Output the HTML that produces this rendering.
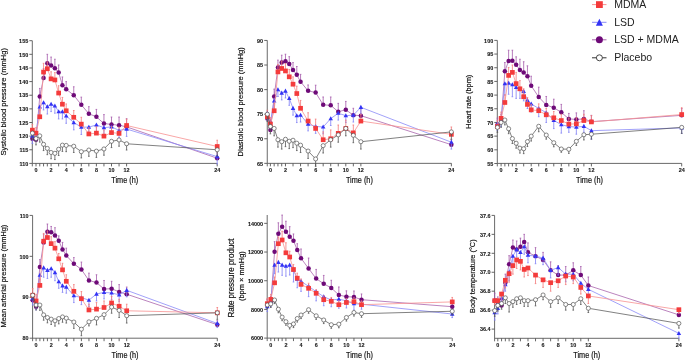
<!DOCTYPE html>
<html><head><meta charset="utf-8"><style>
html,body{margin:0;padding:0;background:#fff;}
svg{display:block;will-change:transform;}
text{font-family:"Liberation Sans", sans-serif;fill:#111;}
.tl{font-size:6.2px;font-weight:bold;fill:#1a1a1a;stroke:#1a1a1a;stroke-width:0.12px;}
.ax{font-size:7.3px;fill:#111;stroke:#111;stroke-width:0.18px;}
.lg{font-size:10.5px;fill:#222;}
</style></head><body>
<svg width="685" height="360" viewBox="0 0 685 360">
<rect width="685" height="360" fill="#fff"/>
<g>
<path d="M32.3 40.7V166.4 M32.3 163.4H217.2" stroke="#6a6a6a" stroke-width="1" fill="none"/>
<path d="M29.3 163.4H32.3" stroke="#555" stroke-width="0.9"/>
<text x="28.2" y="165.6" class="tl" text-anchor="end" textLength="8.79" lengthAdjust="spacingAndGlyphs">110</text>
<path d="M29.3 149.77H32.3" stroke="#555" stroke-width="0.9"/>
<text x="28.2" y="151.97" class="tl" text-anchor="end" textLength="8.79" lengthAdjust="spacingAndGlyphs">115</text>
<path d="M29.3 136.13H32.3" stroke="#555" stroke-width="0.9"/>
<text x="28.2" y="138.33" class="tl" text-anchor="end" textLength="9.09" lengthAdjust="spacingAndGlyphs">120</text>
<path d="M29.3 122.5H32.3" stroke="#555" stroke-width="0.9"/>
<text x="28.2" y="124.7" class="tl" text-anchor="end" textLength="9.09" lengthAdjust="spacingAndGlyphs">125</text>
<path d="M29.3 108.86H32.3" stroke="#555" stroke-width="0.9"/>
<text x="28.2" y="111.06" class="tl" text-anchor="end" textLength="9.09" lengthAdjust="spacingAndGlyphs">130</text>
<path d="M29.3 95.23H32.3" stroke="#555" stroke-width="0.9"/>
<text x="28.2" y="97.43" class="tl" text-anchor="end" textLength="9.09" lengthAdjust="spacingAndGlyphs">135</text>
<path d="M29.3 81.59H32.3" stroke="#555" stroke-width="0.9"/>
<text x="28.2" y="83.79" class="tl" text-anchor="end" textLength="9.09" lengthAdjust="spacingAndGlyphs">140</text>
<path d="M29.3 67.96H32.3" stroke="#555" stroke-width="0.9"/>
<text x="28.2" y="70.16" class="tl" text-anchor="end" textLength="9.09" lengthAdjust="spacingAndGlyphs">145</text>
<path d="M29.3 54.32H32.3" stroke="#555" stroke-width="0.9"/>
<text x="28.2" y="56.52" class="tl" text-anchor="end" textLength="9.09" lengthAdjust="spacingAndGlyphs">150</text>
<path d="M29.3 40.69H32.3" stroke="#555" stroke-width="0.9"/>
<text x="28.2" y="42.89" class="tl" text-anchor="end" textLength="9.09" lengthAdjust="spacingAndGlyphs">155</text>
<path d="M36 163.4V166.4" stroke="#555" stroke-width="0.9"/>
<text x="36" y="172.4" class="tl" text-anchor="middle" textLength="3.03" lengthAdjust="spacingAndGlyphs">0</text>
<path d="M39.77 163.4V166.4" stroke="#555" stroke-width="0.9"/>
<path d="M43.55 163.4V166.4" stroke="#555" stroke-width="0.9"/>
<path d="M47.33 163.4V166.4" stroke="#555" stroke-width="0.9"/>
<path d="M51.1 163.4V166.4" stroke="#555" stroke-width="0.9"/>
<text x="51.1" y="172.4" class="tl" text-anchor="middle" textLength="3.03" lengthAdjust="spacingAndGlyphs">2</text>
<path d="M58.65 163.4V166.4" stroke="#555" stroke-width="0.9"/>
<path d="M66.2 163.4V166.4" stroke="#555" stroke-width="0.9"/>
<text x="66.2" y="172.4" class="tl" text-anchor="middle" textLength="3.03" lengthAdjust="spacingAndGlyphs">4</text>
<path d="M73.75 163.4V166.4" stroke="#555" stroke-width="0.9"/>
<path d="M81.3 163.4V166.4" stroke="#555" stroke-width="0.9"/>
<text x="81.3" y="172.4" class="tl" text-anchor="middle" textLength="3.03" lengthAdjust="spacingAndGlyphs">6</text>
<path d="M88.85 163.4V166.4" stroke="#555" stroke-width="0.9"/>
<path d="M96.4 163.4V166.4" stroke="#555" stroke-width="0.9"/>
<text x="96.4" y="172.4" class="tl" text-anchor="middle" textLength="3.03" lengthAdjust="spacingAndGlyphs">8</text>
<path d="M103.95 163.4V166.4" stroke="#555" stroke-width="0.9"/>
<path d="M111.5 163.4V166.4" stroke="#555" stroke-width="0.9"/>
<text x="111.5" y="172.4" class="tl" text-anchor="middle" textLength="6.06" lengthAdjust="spacingAndGlyphs">10</text>
<path d="M119.05 163.4V166.4" stroke="#555" stroke-width="0.9"/>
<path d="M126.6 163.4V166.4" stroke="#555" stroke-width="0.9"/>
<text x="126.6" y="172.4" class="tl" text-anchor="middle" textLength="6.06" lengthAdjust="spacingAndGlyphs">12</text>
<path d="M217.2 163.4V166.4" stroke="#555" stroke-width="0.9"/>
<text x="217.2" y="172.4" class="tl" text-anchor="middle" textLength="6.06" lengthAdjust="spacingAndGlyphs">24</text>
<text x="124.75" y="183.4" class="ax" style="font-size:8.18px" text-anchor="middle" textLength="26.9" lengthAdjust="spacingAndGlyphs">Time (h)</text>
<text transform="translate(5.9 101.8) rotate(-90)" class="ax" style="font-size:8px" text-anchor="middle" textLength="107.41" lengthAdjust="spacingAndGlyphs">Systolic blood pressure (mmHg)</text>
<polyline points="32.4,138.86 36,139.68 39.77,96.59 43.55,78.04 47.33,63.32 51.1,65.5 54.88,68.23 58.65,72.59 62.42,85.14 66.2,89.23 73.75,95.23 81.3,104.77 88.85,113.77 96.4,116.77 103.95,123.59 111.5,124.4 119.05,125.22 126.6,126.86 217.2,158.22" fill="none" stroke="#a964ad" stroke-width="0.8"/>
<path d="M32.4 138.86V132.04M31.6 132.04H33.2M36 139.68V132.86M35.2 132.86H36.8M39.77 96.59V88.41M38.98 88.41H40.57M43.55 78.04V68.5M42.75 68.5H44.35M47.33 63.32V54.32M46.53 54.32H48.12M51.1 65.5V57.05M50.3 57.05H51.9M54.88 68.23V59.23M54.08 59.23H55.67M58.65 72.59V64.96M57.85 64.96H59.45M62.42 85.14V76.95M61.62 76.95H63.22M66.2 89.23V81.59M65.4 81.59H67M73.75 95.23V86.77M72.95 86.77H74.55M81.3 104.77V97.13M80.5 97.13H82.1M88.85 113.77V106.68M88.05 106.68H89.65M96.4 116.77V109.41M95.6 109.41H97.2M103.95 123.59V114.59M103.15 114.59H104.75M111.5 124.4V117.04M110.7 117.04H112.3M119.05 125.22V117.04M118.25 117.04H119.85M126.6 126.86V118.68M125.8 118.68H127.4M217.2 158.22V152.76M216.4 152.76H218" stroke="#a55aab" stroke-width="0.8" fill="none"/>
<circle cx="32.4" cy="138.86" r="2.25" fill="#6e0a78"/>
<circle cx="36" cy="139.68" r="2.25" fill="#6e0a78"/>
<circle cx="39.77" cy="96.59" r="2.25" fill="#6e0a78"/>
<circle cx="43.55" cy="78.04" r="2.25" fill="#6e0a78"/>
<circle cx="47.33" cy="63.32" r="2.25" fill="#6e0a78"/>
<circle cx="51.1" cy="65.5" r="2.25" fill="#6e0a78"/>
<circle cx="54.88" cy="68.23" r="2.25" fill="#6e0a78"/>
<circle cx="58.65" cy="72.59" r="2.25" fill="#6e0a78"/>
<circle cx="62.42" cy="85.14" r="2.25" fill="#6e0a78"/>
<circle cx="66.2" cy="89.23" r="2.25" fill="#6e0a78"/>
<circle cx="73.75" cy="95.23" r="2.25" fill="#6e0a78"/>
<circle cx="81.3" cy="104.77" r="2.25" fill="#6e0a78"/>
<circle cx="88.85" cy="113.77" r="2.25" fill="#6e0a78"/>
<circle cx="96.4" cy="116.77" r="2.25" fill="#6e0a78"/>
<circle cx="103.95" cy="123.59" r="2.25" fill="#6e0a78"/>
<circle cx="111.5" cy="124.4" r="2.25" fill="#6e0a78"/>
<circle cx="119.05" cy="125.22" r="2.25" fill="#6e0a78"/>
<circle cx="126.6" cy="126.86" r="2.25" fill="#6e0a78"/>
<circle cx="217.2" cy="158.22" r="2.25" fill="#6e0a78"/>
<polyline points="32.4,136.13 36,133.4 39.77,106.95 43.55,102.59 47.33,106.68 51.1,104.22 54.88,105.86 58.65,111.59 62.42,111.59 66.2,115.95 73.75,122.5 81.3,127.13 88.85,127.13 96.4,124.95 103.95,127.68 111.5,126.86 119.05,130.4 126.6,129.04 217.2,156.58" fill="none" stroke="#8a8af7" stroke-width="0.8"/>
<path d="M32.4 136.13V143.49M31.6 143.49H33.2M36 133.4V140.77M35.2 140.77H36.8M39.77 106.95V114.31M38.98 114.31H40.57M43.55 102.59V109.95M42.75 109.95H44.35M47.33 106.68V114.04M46.53 114.04H48.12M51.1 104.22V111.59M50.3 111.59H51.9M54.88 105.86V113.22M54.08 113.22H55.67M58.65 111.59V118.95M57.85 118.95H59.45M62.42 111.59V118.95M61.62 118.95H63.22M66.2 115.95V123.31M65.4 123.31H67M73.75 122.5V129.86M72.95 129.86H74.55M81.3 127.13V134.49M80.5 134.49H82.1M88.85 127.13V134.49M88.05 134.49H89.65M96.4 124.95V132.31M95.6 132.31H97.2M103.95 127.68V135.04M103.15 135.04H104.75M111.5 126.86V134.22M110.7 134.22H112.3M119.05 130.4V137.77M118.25 137.77H119.85M126.6 129.04V136.4M125.8 136.4H127.4M217.2 156.58V163.95M216.4 163.95H218" stroke="#8080f5" stroke-width="0.8" fill="none"/>
<path d="M32.4 133.67L34.65 137.77L30.15 137.77Z" fill="#3333f5"/>
<path d="M36 130.94L38.25 135.04L33.75 135.04Z" fill="#3333f5"/>
<path d="M39.77 104.49L42.02 108.59L37.52 108.59Z" fill="#3333f5"/>
<path d="M43.55 100.13L45.8 104.23L41.3 104.23Z" fill="#3333f5"/>
<path d="M47.33 104.22L49.58 108.32L45.08 108.32Z" fill="#3333f5"/>
<path d="M51.1 101.76L53.35 105.86L48.85 105.86Z" fill="#3333f5"/>
<path d="M54.88 103.4L57.12 107.5L52.62 107.5Z" fill="#3333f5"/>
<path d="M58.65 109.13L60.9 113.23L56.4 113.23Z" fill="#3333f5"/>
<path d="M62.42 109.13L64.67 113.23L60.17 113.23Z" fill="#3333f5"/>
<path d="M66.2 113.49L68.45 117.59L63.95 117.59Z" fill="#3333f5"/>
<path d="M73.75 120.04L76 124.14L71.5 124.14Z" fill="#3333f5"/>
<path d="M81.3 124.67L83.55 128.77L79.05 128.77Z" fill="#3333f5"/>
<path d="M88.85 124.67L91.1 128.77L86.6 128.77Z" fill="#3333f5"/>
<path d="M96.4 122.49L98.65 126.59L94.15 126.59Z" fill="#3333f5"/>
<path d="M103.95 125.22L106.2 129.32L101.7 129.32Z" fill="#3333f5"/>
<path d="M111.5 124.4L113.75 128.5L109.25 128.5Z" fill="#3333f5"/>
<path d="M119.05 127.94L121.3 132.04L116.8 132.04Z" fill="#3333f5"/>
<path d="M126.6 126.58L128.85 130.68L124.35 130.68Z" fill="#3333f5"/>
<path d="M217.2 154.12L219.45 158.22L214.95 158.22Z" fill="#3333f5"/>
<polyline points="32.4,130.13 36,133.13 39.77,116.77 43.55,72.05 47.33,68.77 51.1,78.86 54.88,79.95 58.65,93.04 62.42,104.22 66.2,110.77 73.75,117.31 81.3,124.13 88.85,133.95 96.4,133.13 103.95,136.13 111.5,132.58 119.05,133.4 126.6,125.49 217.2,146.49" fill="none" stroke="#f79090" stroke-width="0.8"/>
<path d="M32.4 130.13V124.4M31.6 124.4H33.2M36 133.13V127.68M35.2 127.68H36.8M39.77 116.77V109.95M38.98 109.95H40.57M43.55 72.05V63.32M42.75 63.32H44.35M47.33 68.77V61.96M46.53 61.96H48.12M51.1 78.86V71.77M50.3 71.77H51.9M54.88 79.95V72.59M54.08 72.59H55.67M58.65 93.04V85.68M57.85 85.68H59.45M62.42 104.22V97.41M61.62 97.41H63.22M66.2 110.77V103.95M65.4 103.95H67M73.75 117.31V110.5M72.95 110.5H74.55M81.3 124.13V117.31M80.5 117.31H82.1M88.85 133.95V127.68M88.05 127.68H89.65M96.4 133.13V126.86M95.6 126.86H97.2M103.95 136.13V129.86M103.15 129.86H104.75M111.5 132.58V126.31M110.7 126.31H112.3M119.05 133.4V127.13M118.25 127.13H119.85M126.6 125.49V119.22M125.8 119.22H127.4M217.2 146.49V140.22M216.4 140.22H218" stroke="#f47a7a" stroke-width="0.8" fill="none"/>
<rect x="30.05" y="127.78" width="4.7" height="4.7" fill="#f43b3b"/>
<rect x="33.65" y="130.78" width="4.7" height="4.7" fill="#f43b3b"/>
<rect x="37.42" y="114.42" width="4.7" height="4.7" fill="#f43b3b"/>
<rect x="41.2" y="69.7" width="4.7" height="4.7" fill="#f43b3b"/>
<rect x="44.98" y="66.42" width="4.7" height="4.7" fill="#f43b3b"/>
<rect x="48.75" y="76.51" width="4.7" height="4.7" fill="#f43b3b"/>
<rect x="52.52" y="77.6" width="4.7" height="4.7" fill="#f43b3b"/>
<rect x="56.3" y="90.69" width="4.7" height="4.7" fill="#f43b3b"/>
<rect x="60.07" y="101.87" width="4.7" height="4.7" fill="#f43b3b"/>
<rect x="63.85" y="108.42" width="4.7" height="4.7" fill="#f43b3b"/>
<rect x="71.4" y="114.96" width="4.7" height="4.7" fill="#f43b3b"/>
<rect x="78.95" y="121.78" width="4.7" height="4.7" fill="#f43b3b"/>
<rect x="86.5" y="131.6" width="4.7" height="4.7" fill="#f43b3b"/>
<rect x="94.05" y="130.78" width="4.7" height="4.7" fill="#f43b3b"/>
<rect x="101.6" y="133.78" width="4.7" height="4.7" fill="#f43b3b"/>
<rect x="109.15" y="130.23" width="4.7" height="4.7" fill="#f43b3b"/>
<rect x="116.7" y="131.05" width="4.7" height="4.7" fill="#f43b3b"/>
<rect x="124.25" y="123.14" width="4.7" height="4.7" fill="#f43b3b"/>
<rect x="214.85" y="144.14" width="4.7" height="4.7" fill="#f43b3b"/>
<polyline points="32.4,133.13 36,138.58 39.77,135.86 43.55,144.31 47.33,148.4 51.1,152.49 54.88,153.31 58.65,149.22 62.42,145.13 66.2,145.4 73.75,146.22 81.3,151.67 88.85,150.04 96.4,151.13 103.95,148.95 111.5,141.31 119.05,139.95 126.6,143.77 217.2,149.77" fill="none" stroke="#4a4a4a" stroke-width="0.7"/>
<path d="M32.4 133.13V139.4M31.6 139.4H33.2M36 138.58V144.86M35.2 144.86H36.8M39.77 135.86V142.13M38.98 142.13H40.57M43.55 144.31V150.58M42.75 150.58H44.35M47.33 148.4V154.67M46.53 154.67H48.12M51.1 152.49V158.76M50.3 158.76H51.9M54.88 153.31V159.58M54.08 159.58H55.67M58.65 149.22V155.49M57.85 155.49H59.45M62.42 145.13V151.4M61.62 151.4H63.22M66.2 145.4V151.67M65.4 151.67H67M73.75 146.22V152.49M72.95 152.49H74.55M81.3 151.67V157.95M80.5 157.95H82.1M88.85 150.04V156.31M88.05 156.31H89.65M96.4 151.13V157.4M95.6 157.4H97.2M103.95 148.95V155.22M103.15 155.22H104.75M111.5 141.31V147.58M110.7 147.58H112.3M119.05 139.95V146.22M118.25 146.22H119.85M126.6 143.77V150.04M125.8 150.04H127.4M217.2 149.77V156.04M216.4 156.04H218" stroke="#555555" stroke-width="0.8" fill="none"/>
<circle cx="32.4" cy="133.13" r="2.05" fill="#fff" stroke="#555" stroke-width="0.7"/>
<circle cx="36" cy="138.58" r="2.05" fill="#fff" stroke="#555" stroke-width="0.7"/>
<circle cx="39.77" cy="135.86" r="2.05" fill="#fff" stroke="#555" stroke-width="0.7"/>
<circle cx="43.55" cy="144.31" r="2.05" fill="#fff" stroke="#555" stroke-width="0.7"/>
<circle cx="47.33" cy="148.4" r="2.05" fill="#fff" stroke="#555" stroke-width="0.7"/>
<circle cx="51.1" cy="152.49" r="2.05" fill="#fff" stroke="#555" stroke-width="0.7"/>
<circle cx="54.88" cy="153.31" r="2.05" fill="#fff" stroke="#555" stroke-width="0.7"/>
<circle cx="58.65" cy="149.22" r="2.05" fill="#fff" stroke="#555" stroke-width="0.7"/>
<circle cx="62.42" cy="145.13" r="2.05" fill="#fff" stroke="#555" stroke-width="0.7"/>
<circle cx="66.2" cy="145.4" r="2.05" fill="#fff" stroke="#555" stroke-width="0.7"/>
<circle cx="73.75" cy="146.22" r="2.05" fill="#fff" stroke="#555" stroke-width="0.7"/>
<circle cx="81.3" cy="151.67" r="2.05" fill="#fff" stroke="#555" stroke-width="0.7"/>
<circle cx="88.85" cy="150.04" r="2.05" fill="#fff" stroke="#555" stroke-width="0.7"/>
<circle cx="96.4" cy="151.13" r="2.05" fill="#fff" stroke="#555" stroke-width="0.7"/>
<circle cx="103.95" cy="148.95" r="2.05" fill="#fff" stroke="#555" stroke-width="0.7"/>
<circle cx="111.5" cy="141.31" r="2.05" fill="#fff" stroke="#555" stroke-width="0.7"/>
<circle cx="119.05" cy="139.95" r="2.05" fill="#fff" stroke="#555" stroke-width="0.7"/>
<circle cx="126.6" cy="143.77" r="2.05" fill="#fff" stroke="#555" stroke-width="0.7"/>
<circle cx="217.2" cy="149.77" r="2.05" fill="#fff" stroke="#555" stroke-width="0.7"/>
</g>
<g>
<path d="M267.25 40.4V166.35 M267.25 163.35H451.5" stroke="#6a6a6a" stroke-width="1" fill="none"/>
<path d="M264.25 163.35H267.25" stroke="#555" stroke-width="0.9"/>
<text x="263.15" y="165.55" class="tl" text-anchor="end" textLength="6.06" lengthAdjust="spacingAndGlyphs">65</text>
<path d="M264.25 138.77H267.25" stroke="#555" stroke-width="0.9"/>
<text x="263.15" y="140.97" class="tl" text-anchor="end" textLength="6.06" lengthAdjust="spacingAndGlyphs">70</text>
<path d="M264.25 114.19H267.25" stroke="#555" stroke-width="0.9"/>
<text x="263.15" y="116.39" class="tl" text-anchor="end" textLength="6.06" lengthAdjust="spacingAndGlyphs">75</text>
<path d="M264.25 89.61H267.25" stroke="#555" stroke-width="0.9"/>
<text x="263.15" y="91.81" class="tl" text-anchor="end" textLength="6.06" lengthAdjust="spacingAndGlyphs">80</text>
<path d="M264.25 65.03H267.25" stroke="#555" stroke-width="0.9"/>
<text x="263.15" y="67.23" class="tl" text-anchor="end" textLength="6.06" lengthAdjust="spacingAndGlyphs">85</text>
<path d="M264.25 40.45H267.25" stroke="#555" stroke-width="0.9"/>
<text x="263.15" y="42.65" class="tl" text-anchor="end" textLength="6.06" lengthAdjust="spacingAndGlyphs">90</text>
<path d="M270.4 163.35V166.35" stroke="#555" stroke-width="0.9"/>
<text x="270.4" y="172.35" class="tl" text-anchor="middle" textLength="3.03" lengthAdjust="spacingAndGlyphs">0</text>
<path d="M274.17 163.35V166.35" stroke="#555" stroke-width="0.9"/>
<path d="M277.94 163.35V166.35" stroke="#555" stroke-width="0.9"/>
<path d="M281.71 163.35V166.35" stroke="#555" stroke-width="0.9"/>
<path d="M285.48 163.35V166.35" stroke="#555" stroke-width="0.9"/>
<text x="285.48" y="172.35" class="tl" text-anchor="middle" textLength="3.03" lengthAdjust="spacingAndGlyphs">2</text>
<path d="M293.02 163.35V166.35" stroke="#555" stroke-width="0.9"/>
<path d="M300.56 163.35V166.35" stroke="#555" stroke-width="0.9"/>
<text x="300.56" y="172.35" class="tl" text-anchor="middle" textLength="3.03" lengthAdjust="spacingAndGlyphs">4</text>
<path d="M308.1 163.35V166.35" stroke="#555" stroke-width="0.9"/>
<path d="M315.64 163.35V166.35" stroke="#555" stroke-width="0.9"/>
<text x="315.64" y="172.35" class="tl" text-anchor="middle" textLength="3.03" lengthAdjust="spacingAndGlyphs">6</text>
<path d="M323.18 163.35V166.35" stroke="#555" stroke-width="0.9"/>
<path d="M330.72 163.35V166.35" stroke="#555" stroke-width="0.9"/>
<text x="330.72" y="172.35" class="tl" text-anchor="middle" textLength="3.03" lengthAdjust="spacingAndGlyphs">8</text>
<path d="M338.26 163.35V166.35" stroke="#555" stroke-width="0.9"/>
<path d="M345.8 163.35V166.35" stroke="#555" stroke-width="0.9"/>
<text x="345.8" y="172.35" class="tl" text-anchor="middle" textLength="6.06" lengthAdjust="spacingAndGlyphs">10</text>
<path d="M353.34 163.35V166.35" stroke="#555" stroke-width="0.9"/>
<path d="M360.88 163.35V166.35" stroke="#555" stroke-width="0.9"/>
<text x="360.88" y="172.35" class="tl" text-anchor="middle" textLength="6.06" lengthAdjust="spacingAndGlyphs">12</text>
<path d="M451.36 163.35V166.35" stroke="#555" stroke-width="0.9"/>
<text x="451.36" y="172.35" class="tl" text-anchor="middle" textLength="6.06" lengthAdjust="spacingAndGlyphs">24</text>
<text x="359.38" y="183.35" class="ax" style="font-size:8.18px" text-anchor="middle" textLength="26.9" lengthAdjust="spacingAndGlyphs">Time (h)</text>
<text transform="translate(243.3 101.85) rotate(-90)" class="ax" style="font-size:7.95px" text-anchor="middle" textLength="109.2" lengthAdjust="spacingAndGlyphs">Diastolic blood pressure (mmHg)</text>
<polyline points="267.35,118.61 270.4,129.92 274.17,96.49 277.94,67.49 281.71,62.57 285.48,61.34 289.25,64.05 293.02,69.95 296.79,74.86 300.56,81.74 308.1,90.84 315.64,92.56 323.18,104.85 330.72,105.34 338.26,111.73 345.8,109.77 353.34,115.17 360.88,115.66 451.36,144.67" fill="none" stroke="#a964ad" stroke-width="0.8"/>
<path d="M267.35 118.61V112.72M266.55 112.72H268.15M270.4 129.92V124.02M269.6 124.02H271.2M274.17 96.49V89.12M273.37 89.12H274.97M277.94 67.49V60.11M277.14 60.11H278.74M281.71 62.57V55.2M280.91 55.2H282.51M285.48 61.34V54.21M284.68 54.21H286.28M289.25 64.05V56.67M288.45 56.67H290.05M293.02 69.95V62.57M292.22 62.57H293.82M296.79 74.86V66.5M295.99 66.5H297.59M300.56 81.74V74.37M299.76 74.37H301.36M308.1 90.84V84.94M307.3 84.94H308.9M315.64 92.56V85.19M314.84 85.19H316.44M323.18 104.85V96.98M322.38 96.98H323.98M330.72 105.34V96.98M329.92 96.98H331.52M338.26 111.73V103.37M337.46 103.37H339.06M345.8 109.77V101.41M345 101.41H346.6M353.34 115.17V108.29M352.54 108.29H354.14M360.88 115.66V108.78M360.08 108.78H361.68M451.36 144.67V139.75M450.56 139.75H452.16" stroke="#a55aab" stroke-width="0.8" fill="none"/>
<circle cx="267.35" cy="118.61" r="2.25" fill="#6e0a78"/>
<circle cx="270.4" cy="129.92" r="2.25" fill="#6e0a78"/>
<circle cx="274.17" cy="96.49" r="2.25" fill="#6e0a78"/>
<circle cx="277.94" cy="67.49" r="2.25" fill="#6e0a78"/>
<circle cx="281.71" cy="62.57" r="2.25" fill="#6e0a78"/>
<circle cx="285.48" cy="61.34" r="2.25" fill="#6e0a78"/>
<circle cx="289.25" cy="64.05" r="2.25" fill="#6e0a78"/>
<circle cx="293.02" cy="69.95" r="2.25" fill="#6e0a78"/>
<circle cx="296.79" cy="74.86" r="2.25" fill="#6e0a78"/>
<circle cx="300.56" cy="81.74" r="2.25" fill="#6e0a78"/>
<circle cx="308.1" cy="90.84" r="2.25" fill="#6e0a78"/>
<circle cx="315.64" cy="92.56" r="2.25" fill="#6e0a78"/>
<circle cx="323.18" cy="104.85" r="2.25" fill="#6e0a78"/>
<circle cx="330.72" cy="105.34" r="2.25" fill="#6e0a78"/>
<circle cx="338.26" cy="111.73" r="2.25" fill="#6e0a78"/>
<circle cx="345.8" cy="109.77" r="2.25" fill="#6e0a78"/>
<circle cx="353.34" cy="115.17" r="2.25" fill="#6e0a78"/>
<circle cx="360.88" cy="115.66" r="2.25" fill="#6e0a78"/>
<circle cx="451.36" cy="144.67" r="2.25" fill="#6e0a78"/>
<polyline points="267.35,113.21 270.4,121.56 274.17,100.92 277.94,89.61 281.71,93.05 285.48,91.08 289.25,98.46 293.02,108.29 296.79,115.66 300.56,115.17 308.1,124.02 315.64,126.48 323.18,126.97 330.72,118.61 338.26,113.21 345.8,115.66 353.34,115.17 360.88,107.31 451.36,142.21" fill="none" stroke="#8a8af7" stroke-width="0.8"/>
<path d="M267.35 113.21V120.09M266.55 120.09H268.15M270.4 121.56V128.45M269.6 128.45H271.2M274.17 100.92V107.8M273.37 107.8H274.97M277.94 89.61V96.49M277.14 96.49H278.74M281.71 93.05V99.93M280.91 99.93H282.51M285.48 91.08V97.97M284.68 97.97H286.28M289.25 98.46V105.34M288.45 105.34H290.05M293.02 108.29V115.17M292.22 115.17H293.82M296.79 115.66V122.55M295.99 122.55H297.59M300.56 115.17V122.06M299.76 122.06H301.36M308.1 124.02V130.9M307.3 130.9H308.9M315.64 126.48V133.36M314.84 133.36H316.44M323.18 126.97V133.85M322.38 133.85H323.98M330.72 118.61V125.5M329.92 125.5H331.52M338.26 113.21V120.09M337.46 120.09H339.06M345.8 115.66V122.55M345 122.55H346.6M353.34 115.17V122.06M352.54 122.06H354.14M360.88 107.31V114.19M360.08 114.19H361.68M451.36 142.21V149.09M450.56 149.09H452.16" stroke="#8080f5" stroke-width="0.8" fill="none"/>
<path d="M267.35 110.75L269.6 114.85L265.1 114.85Z" fill="#3333f5"/>
<path d="M270.4 119.1L272.65 123.2L268.15 123.2Z" fill="#3333f5"/>
<path d="M274.17 98.46L276.42 102.56L271.92 102.56Z" fill="#3333f5"/>
<path d="M277.94 87.15L280.19 91.25L275.69 91.25Z" fill="#3333f5"/>
<path d="M281.71 90.59L283.96 94.69L279.46 94.69Z" fill="#3333f5"/>
<path d="M285.48 88.62L287.73 92.72L283.23 92.72Z" fill="#3333f5"/>
<path d="M289.25 96L291.5 100.1L287 100.1Z" fill="#3333f5"/>
<path d="M293.02 105.83L295.27 109.93L290.77 109.93Z" fill="#3333f5"/>
<path d="M296.79 113.2L299.04 117.3L294.54 117.3Z" fill="#3333f5"/>
<path d="M300.56 112.71L302.81 116.81L298.31 116.81Z" fill="#3333f5"/>
<path d="M308.1 121.56L310.35 125.66L305.85 125.66Z" fill="#3333f5"/>
<path d="M315.64 124.02L317.89 128.12L313.39 128.12Z" fill="#3333f5"/>
<path d="M323.18 124.51L325.43 128.61L320.93 128.61Z" fill="#3333f5"/>
<path d="M330.72 116.15L332.97 120.25L328.47 120.25Z" fill="#3333f5"/>
<path d="M338.26 110.75L340.51 114.85L336.01 114.85Z" fill="#3333f5"/>
<path d="M345.8 113.2L348.05 117.3L343.55 117.3Z" fill="#3333f5"/>
<path d="M353.34 112.71L355.59 116.81L351.09 116.81Z" fill="#3333f5"/>
<path d="M360.88 104.85L363.13 108.95L358.63 108.95Z" fill="#3333f5"/>
<path d="M451.36 139.75L453.61 143.85L449.11 143.85Z" fill="#3333f5"/>
<polyline points="267.35,116.65 270.4,124.02 274.17,110.75 277.94,71.91 281.71,68.47 285.48,70.93 289.25,76.83 293.02,84.2 296.79,93.54 300.56,108.29 308.1,121.07 315.64,128.45 323.18,139.75 330.72,138.77 338.26,133.36 345.8,128.45 353.34,132.87 360.88,121.07 451.36,134.35" fill="none" stroke="#f79090" stroke-width="0.8"/>
<path d="M267.35 116.65V110.26M266.55 110.26H268.15M270.4 124.02V117.63M269.6 117.63H271.2M274.17 110.75V103.37M273.37 103.37H274.97M277.94 71.91V64.54M277.14 64.54H278.74M281.71 68.47V61.1M280.91 61.1H282.51M285.48 70.93V63.56M284.68 63.56H286.28M289.25 76.83V69.45M288.45 69.45H290.05M293.02 84.2V76.83M292.22 76.83H293.82M296.79 93.54V86.17M295.99 86.17H297.59M300.56 108.29V100.43M299.76 100.43H301.36M308.1 121.07V112.72M307.3 112.72H308.9M315.64 128.45V119.11M314.84 119.11H316.44M323.18 139.75V131.89M322.38 131.89H323.98M330.72 138.77V129.92M329.92 129.92H331.52M338.26 133.36V125.01M337.46 125.01H339.06M345.8 128.45V120.09M345 120.09H346.6M353.34 132.87V125.01M352.54 125.01H354.14M360.88 121.07V114.19M360.08 114.19H361.68M451.36 134.35V126.97M450.56 126.97H452.16" stroke="#f47a7a" stroke-width="0.8" fill="none"/>
<rect x="265" y="114.3" width="4.7" height="4.7" fill="#f43b3b"/>
<rect x="268.05" y="121.67" width="4.7" height="4.7" fill="#f43b3b"/>
<rect x="271.82" y="108.4" width="4.7" height="4.7" fill="#f43b3b"/>
<rect x="275.59" y="69.56" width="4.7" height="4.7" fill="#f43b3b"/>
<rect x="279.36" y="66.12" width="4.7" height="4.7" fill="#f43b3b"/>
<rect x="283.13" y="68.58" width="4.7" height="4.7" fill="#f43b3b"/>
<rect x="286.9" y="74.48" width="4.7" height="4.7" fill="#f43b3b"/>
<rect x="290.67" y="81.85" width="4.7" height="4.7" fill="#f43b3b"/>
<rect x="294.44" y="91.19" width="4.7" height="4.7" fill="#f43b3b"/>
<rect x="298.21" y="105.94" width="4.7" height="4.7" fill="#f43b3b"/>
<rect x="305.75" y="118.72" width="4.7" height="4.7" fill="#f43b3b"/>
<rect x="313.29" y="126.1" width="4.7" height="4.7" fill="#f43b3b"/>
<rect x="320.83" y="137.4" width="4.7" height="4.7" fill="#f43b3b"/>
<rect x="328.37" y="136.42" width="4.7" height="4.7" fill="#f43b3b"/>
<rect x="335.91" y="131.01" width="4.7" height="4.7" fill="#f43b3b"/>
<rect x="343.45" y="126.1" width="4.7" height="4.7" fill="#f43b3b"/>
<rect x="350.99" y="130.52" width="4.7" height="4.7" fill="#f43b3b"/>
<rect x="358.53" y="118.72" width="4.7" height="4.7" fill="#f43b3b"/>
<rect x="449.01" y="132" width="4.7" height="4.7" fill="#f43b3b"/>
<polyline points="267.35,114.19 270.4,126.48 274.17,128.45 277.94,139.75 281.71,141.72 285.48,139.26 289.25,141.23 293.02,140.24 296.79,143.19 300.56,145.16 308.1,151.06 315.64,158.93 323.18,145.65 330.72,139.75 338.26,134.84 345.8,128.45 353.34,135.33 360.88,141.72 451.36,131.89" fill="none" stroke="#4a4a4a" stroke-width="0.7"/>
<path d="M267.35 114.19V121.56M266.55 121.56H268.15M270.4 126.48V133.85M269.6 133.85H271.2M274.17 128.45V135.82M273.37 135.82H274.97M277.94 139.75V147.13M277.14 147.13H278.74M281.71 141.72V149.09M280.91 149.09H282.51M285.48 139.26V146.64M284.68 146.64H286.28M289.25 141.23V148.6M288.45 148.6H290.05M293.02 140.24V147.62M292.22 147.62H293.82M296.79 143.19V150.57M295.99 150.57H297.59M300.56 145.16V152.53M299.76 152.53H301.36M308.1 151.06V158.43M307.3 158.43H308.9M315.64 158.93V166.3M314.84 166.3H316.44M323.18 145.65V153.03M322.38 153.03H323.98M330.72 139.75V147.13M329.92 147.13H331.52M338.26 134.84V142.21M337.46 142.21H339.06M345.8 128.45V135.82M345 135.82H346.6M353.34 135.33V142.7M352.54 142.7H354.14M360.88 141.72V149.09M360.08 149.09H361.68M451.36 131.89V139.26M450.56 139.26H452.16" stroke="#555555" stroke-width="0.8" fill="none"/>
<circle cx="267.35" cy="114.19" r="2.05" fill="#fff" stroke="#555" stroke-width="0.7"/>
<circle cx="270.4" cy="126.48" r="2.05" fill="#fff" stroke="#555" stroke-width="0.7"/>
<circle cx="274.17" cy="128.45" r="2.05" fill="#fff" stroke="#555" stroke-width="0.7"/>
<circle cx="277.94" cy="139.75" r="2.05" fill="#fff" stroke="#555" stroke-width="0.7"/>
<circle cx="281.71" cy="141.72" r="2.05" fill="#fff" stroke="#555" stroke-width="0.7"/>
<circle cx="285.48" cy="139.26" r="2.05" fill="#fff" stroke="#555" stroke-width="0.7"/>
<circle cx="289.25" cy="141.23" r="2.05" fill="#fff" stroke="#555" stroke-width="0.7"/>
<circle cx="293.02" cy="140.24" r="2.05" fill="#fff" stroke="#555" stroke-width="0.7"/>
<circle cx="296.79" cy="143.19" r="2.05" fill="#fff" stroke="#555" stroke-width="0.7"/>
<circle cx="300.56" cy="145.16" r="2.05" fill="#fff" stroke="#555" stroke-width="0.7"/>
<circle cx="308.1" cy="151.06" r="2.05" fill="#fff" stroke="#555" stroke-width="0.7"/>
<circle cx="315.64" cy="158.93" r="2.05" fill="#fff" stroke="#555" stroke-width="0.7"/>
<circle cx="323.18" cy="145.65" r="2.05" fill="#fff" stroke="#555" stroke-width="0.7"/>
<circle cx="330.72" cy="139.75" r="2.05" fill="#fff" stroke="#555" stroke-width="0.7"/>
<circle cx="338.26" cy="134.84" r="2.05" fill="#fff" stroke="#555" stroke-width="0.7"/>
<circle cx="345.8" cy="128.45" r="2.05" fill="#fff" stroke="#555" stroke-width="0.7"/>
<circle cx="353.34" cy="135.33" r="2.05" fill="#fff" stroke="#555" stroke-width="0.7"/>
<circle cx="360.88" cy="141.72" r="2.05" fill="#fff" stroke="#555" stroke-width="0.7"/>
<circle cx="451.36" cy="131.89" r="2.05" fill="#fff" stroke="#555" stroke-width="0.7"/>
</g>
<g>
<path d="M497.3 40.4V166.4 M497.3 163.4H681.7" stroke="#6a6a6a" stroke-width="1" fill="none"/>
<path d="M494.3 163.5H497.3" stroke="#555" stroke-width="0.9"/>
<text x="493.2" y="165.7" class="tl" text-anchor="end" textLength="6.06" lengthAdjust="spacingAndGlyphs">55</text>
<path d="M494.3 149.82H497.3" stroke="#555" stroke-width="0.9"/>
<text x="493.2" y="152.02" class="tl" text-anchor="end" textLength="6.06" lengthAdjust="spacingAndGlyphs">60</text>
<path d="M494.3 136.14H497.3" stroke="#555" stroke-width="0.9"/>
<text x="493.2" y="138.34" class="tl" text-anchor="end" textLength="6.06" lengthAdjust="spacingAndGlyphs">65</text>
<path d="M494.3 122.46H497.3" stroke="#555" stroke-width="0.9"/>
<text x="493.2" y="124.66" class="tl" text-anchor="end" textLength="6.06" lengthAdjust="spacingAndGlyphs">70</text>
<path d="M494.3 108.78H497.3" stroke="#555" stroke-width="0.9"/>
<text x="493.2" y="110.98" class="tl" text-anchor="end" textLength="6.06" lengthAdjust="spacingAndGlyphs">75</text>
<path d="M494.3 95.1H497.3" stroke="#555" stroke-width="0.9"/>
<text x="493.2" y="97.3" class="tl" text-anchor="end" textLength="6.06" lengthAdjust="spacingAndGlyphs">80</text>
<path d="M494.3 81.42H497.3" stroke="#555" stroke-width="0.9"/>
<text x="493.2" y="83.62" class="tl" text-anchor="end" textLength="6.06" lengthAdjust="spacingAndGlyphs">85</text>
<path d="M494.3 67.74H497.3" stroke="#555" stroke-width="0.9"/>
<text x="493.2" y="69.94" class="tl" text-anchor="end" textLength="6.06" lengthAdjust="spacingAndGlyphs">90</text>
<path d="M494.3 54.06H497.3" stroke="#555" stroke-width="0.9"/>
<text x="493.2" y="56.26" class="tl" text-anchor="end" textLength="6.06" lengthAdjust="spacingAndGlyphs">95</text>
<path d="M494.3 40.38H497.3" stroke="#555" stroke-width="0.9"/>
<text x="493.2" y="42.58" class="tl" text-anchor="end" textLength="9.09" lengthAdjust="spacingAndGlyphs">100</text>
<path d="M501.1 163.4V166.4" stroke="#555" stroke-width="0.9"/>
<text x="501.1" y="172.4" class="tl" text-anchor="middle" textLength="3.03" lengthAdjust="spacingAndGlyphs">0</text>
<path d="M504.86 163.4V166.4" stroke="#555" stroke-width="0.9"/>
<path d="M508.62 163.4V166.4" stroke="#555" stroke-width="0.9"/>
<path d="M512.39 163.4V166.4" stroke="#555" stroke-width="0.9"/>
<path d="M516.15 163.4V166.4" stroke="#555" stroke-width="0.9"/>
<text x="516.15" y="172.4" class="tl" text-anchor="middle" textLength="3.03" lengthAdjust="spacingAndGlyphs">2</text>
<path d="M523.68 163.4V166.4" stroke="#555" stroke-width="0.9"/>
<path d="M531.2 163.4V166.4" stroke="#555" stroke-width="0.9"/>
<text x="531.2" y="172.4" class="tl" text-anchor="middle" textLength="3.03" lengthAdjust="spacingAndGlyphs">4</text>
<path d="M538.73 163.4V166.4" stroke="#555" stroke-width="0.9"/>
<path d="M546.25 163.4V166.4" stroke="#555" stroke-width="0.9"/>
<text x="546.25" y="172.4" class="tl" text-anchor="middle" textLength="3.03" lengthAdjust="spacingAndGlyphs">6</text>
<path d="M553.77 163.4V166.4" stroke="#555" stroke-width="0.9"/>
<path d="M561.3 163.4V166.4" stroke="#555" stroke-width="0.9"/>
<text x="561.3" y="172.4" class="tl" text-anchor="middle" textLength="3.03" lengthAdjust="spacingAndGlyphs">8</text>
<path d="M568.83 163.4V166.4" stroke="#555" stroke-width="0.9"/>
<path d="M576.35 163.4V166.4" stroke="#555" stroke-width="0.9"/>
<text x="576.35" y="172.4" class="tl" text-anchor="middle" textLength="6.06" lengthAdjust="spacingAndGlyphs">10</text>
<path d="M583.88 163.4V166.4" stroke="#555" stroke-width="0.9"/>
<path d="M591.4 163.4V166.4" stroke="#555" stroke-width="0.9"/>
<text x="591.4" y="172.4" class="tl" text-anchor="middle" textLength="6.06" lengthAdjust="spacingAndGlyphs">12</text>
<path d="M681.7 163.4V166.4" stroke="#555" stroke-width="0.9"/>
<text x="681.7" y="172.4" class="tl" text-anchor="middle" textLength="6.06" lengthAdjust="spacingAndGlyphs">24</text>
<text x="589.5" y="183.4" class="ax" style="font-size:8.18px" text-anchor="middle" textLength="26.9" lengthAdjust="spacingAndGlyphs">Time (h)</text>
<text transform="translate(470.9 101.7) rotate(-90)" class="ax" style="font-size:7.79px" text-anchor="middle" textLength="53.92" lengthAdjust="spacingAndGlyphs">Heart rate (bpm)</text>
<polyline points="497.4,124.92 501.1,121.09 504.86,71.3 508.62,60.9 512.39,60.63 516.15,64.73 519.91,69.93 523.68,72.39 527.44,76.22 531.2,85.8 538.73,97.02 546.25,104.95 553.77,107.69 561.3,112.34 568.83,118.9 576.35,119.45 583.88,118.9 591.4,121.64 681.7,115.35" fill="none" stroke="#a964ad" stroke-width="0.8"/>
<path d="M497.4 124.92V118.08M496.6 118.08H498.2M501.1 121.09V114.25M500.3 114.25H501.9M504.86 71.3V62.54M504.06 62.54H505.66M508.62 60.9V50.23M507.82 50.23H509.43M512.39 60.63V50.23M511.59 50.23H513.19M516.15 64.73V56.8M515.35 56.8H516.95M519.91 69.93V59.26M519.11 59.26H520.71M523.68 72.39V61.72M522.88 61.72H524.48M527.44 76.22V65.82M526.64 65.82H528.24M531.2 85.8V76.22M530.4 76.22H532M538.73 97.02V87.17M537.93 87.17H539.52M546.25 104.95V96.47M545.45 96.47H547.05M553.77 107.69V99.2M552.98 99.2H554.57M561.3 112.34V104.4M560.5 104.4H562.1M568.83 118.9V113.43M568.03 113.43H569.62M576.35 119.45V112.88M575.55 112.88H577.15M583.88 118.9V110.7M583.08 110.7H584.67M591.4 121.64V115.35M590.6 115.35H592.2M681.7 115.35V108.51M680.9 108.51H682.5" stroke="#a55aab" stroke-width="0.8" fill="none"/>
<circle cx="497.4" cy="124.92" r="2.25" fill="#6e0a78"/>
<circle cx="501.1" cy="121.09" r="2.25" fill="#6e0a78"/>
<circle cx="504.86" cy="71.3" r="2.25" fill="#6e0a78"/>
<circle cx="508.62" cy="60.9" r="2.25" fill="#6e0a78"/>
<circle cx="512.39" cy="60.63" r="2.25" fill="#6e0a78"/>
<circle cx="516.15" cy="64.73" r="2.25" fill="#6e0a78"/>
<circle cx="519.91" cy="69.93" r="2.25" fill="#6e0a78"/>
<circle cx="523.68" cy="72.39" r="2.25" fill="#6e0a78"/>
<circle cx="527.44" cy="76.22" r="2.25" fill="#6e0a78"/>
<circle cx="531.2" cy="85.8" r="2.25" fill="#6e0a78"/>
<circle cx="538.73" cy="97.02" r="2.25" fill="#6e0a78"/>
<circle cx="546.25" cy="104.95" r="2.25" fill="#6e0a78"/>
<circle cx="553.77" cy="107.69" r="2.25" fill="#6e0a78"/>
<circle cx="561.3" cy="112.34" r="2.25" fill="#6e0a78"/>
<circle cx="568.83" cy="118.9" r="2.25" fill="#6e0a78"/>
<circle cx="576.35" cy="119.45" r="2.25" fill="#6e0a78"/>
<circle cx="583.88" cy="118.9" r="2.25" fill="#6e0a78"/>
<circle cx="591.4" cy="121.64" r="2.25" fill="#6e0a78"/>
<circle cx="681.7" cy="115.35" r="2.25" fill="#6e0a78"/>
<polyline points="497.4,123.83 501.1,119.72 504.86,83.61 508.62,83.06 512.39,84.7 516.15,87.44 519.91,88.81 523.68,91.27 527.44,100.3 531.2,103.86 538.73,108.51 546.25,112.61 553.77,120.41 561.3,124.65 568.83,126.56 576.35,127.11 583.88,126.29 591.4,130.67 681.7,127.93" fill="none" stroke="#8a8af7" stroke-width="0.8"/>
<path d="M497.4 123.83V130.67M496.6 130.67H498.2M501.1 119.72V126.56M500.3 126.56H501.9M504.86 83.61V95.1M504.06 95.1H505.66M508.62 83.06V94.28M507.82 94.28H509.43M512.39 84.7V96.74M511.59 96.74H513.19M516.15 87.44V98.38M515.35 98.38H516.95M519.91 88.81V98.38M519.11 98.38H520.71M523.68 91.27V100.85M522.88 100.85H524.48M527.44 100.3V108.51M526.64 108.51H528.24M531.2 103.86V112.06M530.4 112.06H532M538.73 108.51V116.71M537.93 116.71H539.52M546.25 112.61V122.46M545.45 122.46H547.05M553.77 120.41V128.62M552.98 128.62H554.57M561.3 124.65V133.13M560.5 133.13H562.1M568.83 126.56V132.31M568.03 132.31H569.62M576.35 127.11V134.22M575.55 134.22H577.15M583.88 126.29V132.31M583.08 132.31H584.67M591.4 130.67V139.15M590.6 139.15H592.2M681.7 127.93V133.4M680.9 133.4H682.5" stroke="#8080f5" stroke-width="0.8" fill="none"/>
<path d="M497.4 121.37L499.65 125.47L495.15 125.47Z" fill="#3333f5"/>
<path d="M501.1 117.26L503.35 121.36L498.85 121.36Z" fill="#3333f5"/>
<path d="M504.86 81.15L507.11 85.25L502.61 85.25Z" fill="#3333f5"/>
<path d="M508.62 80.6L510.88 84.7L506.38 84.7Z" fill="#3333f5"/>
<path d="M512.39 82.24L514.64 86.34L510.14 86.34Z" fill="#3333f5"/>
<path d="M516.15 84.98L518.4 89.08L513.9 89.08Z" fill="#3333f5"/>
<path d="M519.91 86.35L522.16 90.45L517.66 90.45Z" fill="#3333f5"/>
<path d="M523.68 88.81L525.93 92.91L521.43 92.91Z" fill="#3333f5"/>
<path d="M527.44 97.84L529.69 101.94L525.19 101.94Z" fill="#3333f5"/>
<path d="M531.2 101.4L533.45 105.5L528.95 105.5Z" fill="#3333f5"/>
<path d="M538.73 106.05L540.98 110.15L536.48 110.15Z" fill="#3333f5"/>
<path d="M546.25 110.15L548.5 114.25L544 114.25Z" fill="#3333f5"/>
<path d="M553.77 117.95L556.02 122.05L551.52 122.05Z" fill="#3333f5"/>
<path d="M561.3 122.19L563.55 126.29L559.05 126.29Z" fill="#3333f5"/>
<path d="M568.83 124.1L571.08 128.2L566.58 128.2Z" fill="#3333f5"/>
<path d="M576.35 124.65L578.6 128.75L574.1 128.75Z" fill="#3333f5"/>
<path d="M583.88 123.83L586.12 127.93L581.62 127.93Z" fill="#3333f5"/>
<path d="M591.4 128.21L593.65 132.31L589.15 132.31Z" fill="#3333f5"/>
<path d="M681.7 125.47L683.95 129.57L679.45 129.57Z" fill="#3333f5"/>
<polyline points="497.4,126.56 501.1,118.36 504.86,102.49 508.62,75.4 512.39,72.39 516.15,83.61 519.91,88.81 523.68,96.74 527.44,104.4 531.2,109.87 538.73,110.7 546.25,114.8 553.77,117.81 561.3,120.54 568.83,124.1 576.35,123.83 583.88,120.54 591.4,121.91 681.7,114.53" fill="none" stroke="#f79090" stroke-width="0.8"/>
<path d="M497.4 126.56V120.27M496.6 120.27H498.2M501.1 118.36V112.06M500.3 112.06H501.9M504.86 102.49V94.83M504.06 94.83H505.66M508.62 75.4V67.47M507.82 67.47H509.43M512.39 72.39V65M511.59 65H513.19M516.15 83.61V72.39M515.35 72.39H516.95M519.91 88.81V80.6M519.11 80.6H520.71M523.68 96.74V88.81M522.88 88.81H524.48M527.44 104.4V97.56M526.64 97.56H528.24M531.2 109.87V104.4M530.4 104.4H532M538.73 110.7V103.86M537.93 103.86H539.52M546.25 114.8V108.51M545.45 108.51H547.05M553.77 117.81V111.52M552.98 111.52H554.57M561.3 120.54V114.25M560.5 114.25H562.1M568.83 124.1V118.08M568.03 118.08H569.62M576.35 123.83V117.81M575.55 117.81H577.15M583.88 120.54V114.25M583.08 114.25H584.67M591.4 121.91V115.62M590.6 115.62H592.2M681.7 114.53V107.69M680.9 107.69H682.5" stroke="#f47a7a" stroke-width="0.8" fill="none"/>
<rect x="495.05" y="124.21" width="4.7" height="4.7" fill="#f43b3b"/>
<rect x="498.75" y="116.01" width="4.7" height="4.7" fill="#f43b3b"/>
<rect x="502.51" y="100.14" width="4.7" height="4.7" fill="#f43b3b"/>
<rect x="506.27" y="73.05" width="4.7" height="4.7" fill="#f43b3b"/>
<rect x="510.04" y="70.04" width="4.7" height="4.7" fill="#f43b3b"/>
<rect x="513.8" y="81.26" width="4.7" height="4.7" fill="#f43b3b"/>
<rect x="517.56" y="86.46" width="4.7" height="4.7" fill="#f43b3b"/>
<rect x="521.33" y="94.39" width="4.7" height="4.7" fill="#f43b3b"/>
<rect x="525.09" y="102.05" width="4.7" height="4.7" fill="#f43b3b"/>
<rect x="528.85" y="107.52" width="4.7" height="4.7" fill="#f43b3b"/>
<rect x="536.38" y="108.35" width="4.7" height="4.7" fill="#f43b3b"/>
<rect x="543.9" y="112.45" width="4.7" height="4.7" fill="#f43b3b"/>
<rect x="551.42" y="115.46" width="4.7" height="4.7" fill="#f43b3b"/>
<rect x="558.95" y="118.19" width="4.7" height="4.7" fill="#f43b3b"/>
<rect x="566.48" y="121.75" width="4.7" height="4.7" fill="#f43b3b"/>
<rect x="574" y="121.48" width="4.7" height="4.7" fill="#f43b3b"/>
<rect x="581.52" y="118.19" width="4.7" height="4.7" fill="#f43b3b"/>
<rect x="589.05" y="119.56" width="4.7" height="4.7" fill="#f43b3b"/>
<rect x="679.35" y="112.18" width="4.7" height="4.7" fill="#f43b3b"/>
<polyline points="497.4,127.38 501.1,122.46 504.86,120 508.62,128.75 512.39,138.6 516.15,143.25 519.91,148.18 523.68,148.73 527.44,141.61 531.2,136.14 538.73,126.29 546.25,135.05 553.77,142.71 561.3,149 568.83,149.27 576.35,141.34 583.88,134.77 591.4,134.22 681.7,127.38" fill="none" stroke="#4a4a4a" stroke-width="0.7"/>
<path d="M497.4 127.38V132.31M496.6 132.31H498.2M501.1 122.46V127.38M500.3 127.38H501.9M504.86 120V124.92M504.06 124.92H505.66M508.62 128.75V133.68M507.82 133.68H509.43M512.39 138.6V143.53M511.59 143.53H513.19M516.15 143.25V148.18M515.35 148.18H516.95M519.91 148.18V153.1M519.11 153.1H520.71M523.68 148.73V153.65M522.88 153.65H524.48M527.44 141.61V146.54M526.64 146.54H528.24M531.2 136.14V141.06M530.4 141.06H532M538.73 126.29V131.76M537.93 131.76H539.52M546.25 135.05V139.15M545.45 139.15H547.05M553.77 142.71V146.81M552.98 146.81H554.57M561.3 149V152.28M560.5 152.28H562.1M568.83 149.27V153.38M568.03 153.38H569.62M576.35 141.34V145.44M575.55 145.44H577.15M583.88 134.77V139.97M583.08 139.97H584.67M591.4 134.22V139.15M590.6 139.15H592.2M681.7 127.38V133.4M680.9 133.4H682.5" stroke="#555555" stroke-width="0.8" fill="none"/>
<circle cx="497.4" cy="127.38" r="2.05" fill="#fff" stroke="#555" stroke-width="0.7"/>
<circle cx="501.1" cy="122.46" r="2.05" fill="#fff" stroke="#555" stroke-width="0.7"/>
<circle cx="504.86" cy="120" r="2.05" fill="#fff" stroke="#555" stroke-width="0.7"/>
<circle cx="508.62" cy="128.75" r="2.05" fill="#fff" stroke="#555" stroke-width="0.7"/>
<circle cx="512.39" cy="138.6" r="2.05" fill="#fff" stroke="#555" stroke-width="0.7"/>
<circle cx="516.15" cy="143.25" r="2.05" fill="#fff" stroke="#555" stroke-width="0.7"/>
<circle cx="519.91" cy="148.18" r="2.05" fill="#fff" stroke="#555" stroke-width="0.7"/>
<circle cx="523.68" cy="148.73" r="2.05" fill="#fff" stroke="#555" stroke-width="0.7"/>
<circle cx="527.44" cy="141.61" r="2.05" fill="#fff" stroke="#555" stroke-width="0.7"/>
<circle cx="531.2" cy="136.14" r="2.05" fill="#fff" stroke="#555" stroke-width="0.7"/>
<circle cx="538.73" cy="126.29" r="2.05" fill="#fff" stroke="#555" stroke-width="0.7"/>
<circle cx="546.25" cy="135.05" r="2.05" fill="#fff" stroke="#555" stroke-width="0.7"/>
<circle cx="553.77" cy="142.71" r="2.05" fill="#fff" stroke="#555" stroke-width="0.7"/>
<circle cx="561.3" cy="149" r="2.05" fill="#fff" stroke="#555" stroke-width="0.7"/>
<circle cx="568.83" cy="149.27" r="2.05" fill="#fff" stroke="#555" stroke-width="0.7"/>
<circle cx="576.35" cy="141.34" r="2.05" fill="#fff" stroke="#555" stroke-width="0.7"/>
<circle cx="583.88" cy="134.77" r="2.05" fill="#fff" stroke="#555" stroke-width="0.7"/>
<circle cx="591.4" cy="134.22" r="2.05" fill="#fff" stroke="#555" stroke-width="0.7"/>
<circle cx="681.7" cy="127.38" r="2.05" fill="#fff" stroke="#555" stroke-width="0.7"/>
</g>
<g>
<path d="M32.6 215.4V341.2 M32.6 338.2H217.4" stroke="#6a6a6a" stroke-width="1" fill="none"/>
<path d="M29.6 338.2H32.6" stroke="#555" stroke-width="0.9"/>
<text x="28.5" y="340.4" class="tl" text-anchor="end" textLength="6.06" lengthAdjust="spacingAndGlyphs">80</text>
<path d="M29.6 297.27H32.6" stroke="#555" stroke-width="0.9"/>
<text x="28.5" y="299.47" class="tl" text-anchor="end" textLength="6.06" lengthAdjust="spacingAndGlyphs">90</text>
<path d="M29.6 256.34H32.6" stroke="#555" stroke-width="0.9"/>
<text x="28.5" y="258.54" class="tl" text-anchor="end" textLength="9.09" lengthAdjust="spacingAndGlyphs">100</text>
<path d="M29.6 215.41H32.6" stroke="#555" stroke-width="0.9"/>
<text x="28.5" y="217.61" class="tl" text-anchor="end" textLength="8.79" lengthAdjust="spacingAndGlyphs">110</text>
<path d="M36.1 338.2V341.2" stroke="#555" stroke-width="0.9"/>
<text x="36.1" y="347.2" class="tl" text-anchor="middle" textLength="3.03" lengthAdjust="spacingAndGlyphs">0</text>
<path d="M39.88 338.2V341.2" stroke="#555" stroke-width="0.9"/>
<path d="M43.65 338.2V341.2" stroke="#555" stroke-width="0.9"/>
<path d="M47.42 338.2V341.2" stroke="#555" stroke-width="0.9"/>
<path d="M51.2 338.2V341.2" stroke="#555" stroke-width="0.9"/>
<text x="51.2" y="347.2" class="tl" text-anchor="middle" textLength="3.03" lengthAdjust="spacingAndGlyphs">2</text>
<path d="M58.75 338.2V341.2" stroke="#555" stroke-width="0.9"/>
<path d="M66.3 338.2V341.2" stroke="#555" stroke-width="0.9"/>
<text x="66.3" y="347.2" class="tl" text-anchor="middle" textLength="3.03" lengthAdjust="spacingAndGlyphs">4</text>
<path d="M73.85 338.2V341.2" stroke="#555" stroke-width="0.9"/>
<path d="M81.4 338.2V341.2" stroke="#555" stroke-width="0.9"/>
<text x="81.4" y="347.2" class="tl" text-anchor="middle" textLength="3.03" lengthAdjust="spacingAndGlyphs">6</text>
<path d="M88.95 338.2V341.2" stroke="#555" stroke-width="0.9"/>
<path d="M96.5 338.2V341.2" stroke="#555" stroke-width="0.9"/>
<text x="96.5" y="347.2" class="tl" text-anchor="middle" textLength="3.03" lengthAdjust="spacingAndGlyphs">8</text>
<path d="M104.05 338.2V341.2" stroke="#555" stroke-width="0.9"/>
<path d="M111.6 338.2V341.2" stroke="#555" stroke-width="0.9"/>
<text x="111.6" y="347.2" class="tl" text-anchor="middle" textLength="6.06" lengthAdjust="spacingAndGlyphs">10</text>
<path d="M119.15 338.2V341.2" stroke="#555" stroke-width="0.9"/>
<path d="M126.7 338.2V341.2" stroke="#555" stroke-width="0.9"/>
<text x="126.7" y="347.2" class="tl" text-anchor="middle" textLength="6.06" lengthAdjust="spacingAndGlyphs">12</text>
<path d="M217.3 338.2V341.2" stroke="#555" stroke-width="0.9"/>
<text x="217.3" y="347.2" class="tl" text-anchor="middle" textLength="6.06" lengthAdjust="spacingAndGlyphs">24</text>
<text x="125" y="358.2" class="ax" style="font-size:8.18px" text-anchor="middle" textLength="26.9" lengthAdjust="spacingAndGlyphs">Time (h)</text>
<text transform="translate(5.9 276.1) rotate(-90)" class="ax" style="font-size:7.84px" text-anchor="middle" textLength="102.81" lengthAdjust="spacingAndGlyphs">Mean arterial pressure (mmHg)</text>
<polyline points="32.7,300.14 36.1,306.68 39.88,266.98 43.65,242.42 47.42,231.78 51.2,232.19 54.98,235.47 58.75,240.79 62.53,249.38 66.3,255.52 73.85,263.71 81.4,269.44 88.95,280.49 96.5,282.54 104.05,289.08 111.6,288.67 119.15,291.95 126.7,294.2 217.3,324.69" fill="none" stroke="#a964ad" stroke-width="0.8"/>
<path d="M32.7 300.14V293.59M31.9 293.59H33.5M36.1 306.68V300.14M35.3 300.14H36.9M39.88 266.98V259.61M39.08 259.61H40.67M43.65 242.42V234.24M42.85 234.24H44.45M47.42 231.78V224.01M46.62 224.01H48.22M51.2 232.19V226.46M50.4 226.46H52M54.98 235.47V227.69M54.18 227.69H55.77M58.75 240.79V235.88M57.95 235.88H59.55M62.53 249.38V242.42M61.73 242.42H63.33M66.3 255.52V248.15M65.5 248.15H67.1M73.85 263.71V257.57M73.05 257.57H74.65M81.4 269.44V262.07M80.6 262.07H82.2M88.95 280.49V273.12M88.15 273.12H89.75M96.5 282.54V274.76M95.7 274.76H97.3M104.05 289.08V280.49M103.25 280.49H104.85M111.6 288.67V281.31M110.8 281.31H112.4M119.15 291.95V284.58M118.35 284.58H119.95M126.7 294.2V287.04M125.9 287.04H127.5M217.3 324.69V320.6M216.5 320.6H218.1" stroke="#a55aab" stroke-width="0.8" fill="none"/>
<circle cx="32.7" cy="300.14" r="2.25" fill="#6e0a78"/>
<circle cx="36.1" cy="306.68" r="2.25" fill="#6e0a78"/>
<circle cx="39.88" cy="266.98" r="2.25" fill="#6e0a78"/>
<circle cx="43.65" cy="242.42" r="2.25" fill="#6e0a78"/>
<circle cx="47.42" cy="231.78" r="2.25" fill="#6e0a78"/>
<circle cx="51.2" cy="232.19" r="2.25" fill="#6e0a78"/>
<circle cx="54.98" cy="235.47" r="2.25" fill="#6e0a78"/>
<circle cx="58.75" cy="240.79" r="2.25" fill="#6e0a78"/>
<circle cx="62.53" cy="249.38" r="2.25" fill="#6e0a78"/>
<circle cx="66.3" cy="255.52" r="2.25" fill="#6e0a78"/>
<circle cx="73.85" cy="263.71" r="2.25" fill="#6e0a78"/>
<circle cx="81.4" cy="269.44" r="2.25" fill="#6e0a78"/>
<circle cx="88.95" cy="280.49" r="2.25" fill="#6e0a78"/>
<circle cx="96.5" cy="282.54" r="2.25" fill="#6e0a78"/>
<circle cx="104.05" cy="289.08" r="2.25" fill="#6e0a78"/>
<circle cx="111.6" cy="288.67" r="2.25" fill="#6e0a78"/>
<circle cx="119.15" cy="291.95" r="2.25" fill="#6e0a78"/>
<circle cx="126.7" cy="294.2" r="2.25" fill="#6e0a78"/>
<circle cx="217.3" cy="324.69" r="2.25" fill="#6e0a78"/>
<polyline points="32.7,298.5 36.1,303.41 39.88,275.17 43.65,267.8 47.42,270.26 51.2,268.62 54.98,272.51 58.75,281.72 62.53,285.81 66.3,287.04 73.85,295.63 81.4,297.68 88.95,300.14 96.5,294 104.05,292.36 111.6,292.97 119.15,294.81 126.7,290.31 217.3,323.47" fill="none" stroke="#8a8af7" stroke-width="0.8"/>
<path d="M32.7 298.5V305.05M31.9 305.05H33.5M36.1 303.41V309.96M35.3 309.96H36.9M39.88 275.17V283.35M39.08 283.35H40.67M43.65 267.8V277.21M42.85 277.21H44.45M47.42 270.26V278.44M46.62 278.44H48.22M51.2 268.62V277.21M50.4 277.21H52M54.98 272.51V280.69M54.18 280.69H55.77M58.75 281.72V288.27M57.95 288.27H59.55M62.53 285.81V292.36M61.73 292.36H63.33M66.3 287.04V293.18M65.5 293.18H67.1M73.85 295.63V302.59M73.05 302.59H74.65M81.4 297.68V304.64M80.6 304.64H82.2M88.95 300.14V306.68M88.15 306.68H89.75M96.5 294V300.95M95.7 300.95H97.3M104.05 292.36V298.91M103.25 298.91H104.85M111.6 292.97V299.52M110.8 299.52H112.4M119.15 294.81V301.36M118.35 301.36H119.95M126.7 290.31V296.86M125.9 296.86H127.5M217.3 323.47V327.56M216.5 327.56H218.1" stroke="#8080f5" stroke-width="0.8" fill="none"/>
<path d="M32.7 296.04L34.95 300.14L30.45 300.14Z" fill="#3333f5"/>
<path d="M36.1 300.95L38.35 305.05L33.85 305.05Z" fill="#3333f5"/>
<path d="M39.88 272.71L42.12 276.81L37.62 276.81Z" fill="#3333f5"/>
<path d="M43.65 265.34L45.9 269.44L41.4 269.44Z" fill="#3333f5"/>
<path d="M47.42 267.8L49.67 271.9L45.17 271.9Z" fill="#3333f5"/>
<path d="M51.2 266.16L53.45 270.26L48.95 270.26Z" fill="#3333f5"/>
<path d="M54.98 270.05L57.23 274.15L52.73 274.15Z" fill="#3333f5"/>
<path d="M58.75 279.26L61 283.36L56.5 283.36Z" fill="#3333f5"/>
<path d="M62.53 283.35L64.78 287.45L60.28 287.45Z" fill="#3333f5"/>
<path d="M66.3 284.58L68.55 288.68L64.05 288.68Z" fill="#3333f5"/>
<path d="M73.85 293.17L76.1 297.27L71.6 297.27Z" fill="#3333f5"/>
<path d="M81.4 295.22L83.65 299.32L79.15 299.32Z" fill="#3333f5"/>
<path d="M88.95 297.68L91.2 301.78L86.7 301.78Z" fill="#3333f5"/>
<path d="M96.5 291.54L98.75 295.64L94.25 295.64Z" fill="#3333f5"/>
<path d="M104.05 289.9L106.3 294L101.8 294Z" fill="#3333f5"/>
<path d="M111.6 290.51L113.85 294.61L109.35 294.61Z" fill="#3333f5"/>
<path d="M119.15 292.35L121.4 296.45L116.9 296.45Z" fill="#3333f5"/>
<path d="M126.7 287.85L128.95 291.95L124.45 291.95Z" fill="#3333f5"/>
<path d="M217.3 321.01L219.55 325.11L215.05 325.11Z" fill="#3333f5"/>
<polyline points="32.7,295.22 36.1,300.95 39.88,285.4 43.65,241.2 47.42,237.51 51.2,243.65 54.98,248.15 58.75,258.8 62.53,269.85 66.3,281.31 73.85,291.34 81.4,298.7 88.95,309.96 96.5,309.14 104.05,307.5 111.6,303 119.15,306.27 126.7,310.78 217.3,312.82" fill="none" stroke="#f79090" stroke-width="0.8"/>
<path d="M32.7 295.22V288.67M31.9 288.67H33.5M36.1 300.95V294.4M35.3 294.4H36.9M39.88 285.4V279.26M39.08 279.26H40.67M43.65 241.2V233.42M42.85 233.42H44.45M47.42 237.51V230.96M46.62 230.96H48.22M51.2 243.65V236.69M50.4 236.69H52M54.98 248.15V241.61M54.18 241.61H55.77M58.75 258.8V253.47M57.95 253.47H59.55M62.53 269.85V263.3M61.73 263.3H63.33M66.3 281.31V274.76M65.5 274.76H67.1M73.85 291.34V284.58M73.05 284.58H74.65M81.4 298.7V291.54M80.6 291.54H82.2M88.95 309.96V304.23M88.15 304.23H89.75M96.5 309.14V302.59M95.7 302.59H97.3M104.05 307.5V300.95M103.25 300.95H104.85M111.6 303V296.45M110.8 296.45H112.4M119.15 306.27V299.32M118.35 299.32H119.95M126.7 310.78V304.23M125.9 304.23H127.5M217.3 312.82V307.5M216.5 307.5H218.1" stroke="#f47a7a" stroke-width="0.8" fill="none"/>
<rect x="30.35" y="292.87" width="4.7" height="4.7" fill="#f43b3b"/>
<rect x="33.75" y="298.6" width="4.7" height="4.7" fill="#f43b3b"/>
<rect x="37.52" y="283.05" width="4.7" height="4.7" fill="#f43b3b"/>
<rect x="41.3" y="238.85" width="4.7" height="4.7" fill="#f43b3b"/>
<rect x="45.07" y="235.16" width="4.7" height="4.7" fill="#f43b3b"/>
<rect x="48.85" y="241.3" width="4.7" height="4.7" fill="#f43b3b"/>
<rect x="52.62" y="245.8" width="4.7" height="4.7" fill="#f43b3b"/>
<rect x="56.4" y="256.45" width="4.7" height="4.7" fill="#f43b3b"/>
<rect x="60.18" y="267.5" width="4.7" height="4.7" fill="#f43b3b"/>
<rect x="63.95" y="278.96" width="4.7" height="4.7" fill="#f43b3b"/>
<rect x="71.5" y="288.99" width="4.7" height="4.7" fill="#f43b3b"/>
<rect x="79.05" y="296.35" width="4.7" height="4.7" fill="#f43b3b"/>
<rect x="86.6" y="307.61" width="4.7" height="4.7" fill="#f43b3b"/>
<rect x="94.15" y="306.79" width="4.7" height="4.7" fill="#f43b3b"/>
<rect x="101.7" y="305.15" width="4.7" height="4.7" fill="#f43b3b"/>
<rect x="109.25" y="300.65" width="4.7" height="4.7" fill="#f43b3b"/>
<rect x="116.8" y="303.92" width="4.7" height="4.7" fill="#f43b3b"/>
<rect x="124.35" y="308.43" width="4.7" height="4.7" fill="#f43b3b"/>
<rect x="214.95" y="310.47" width="4.7" height="4.7" fill="#f43b3b"/>
<polyline points="32.7,295.22 36.1,305.05 39.88,305.05 43.65,314.87 47.42,317.53 51.2,319.17 54.98,320.8 58.75,318.55 62.53,316.92 66.3,318.14 73.85,322.03 81.4,329.2 88.95,321.83 96.5,318.35 104.05,314.67 111.6,307.09 119.15,310.37 126.7,315.69 217.3,312.82" fill="none" stroke="#4a4a4a" stroke-width="0.7"/>
<path d="M32.7 295.22V300.14M31.9 300.14H33.5M36.1 305.05V309.96M35.3 309.96H36.9M39.88 305.05V310.37M39.08 310.37H40.67M43.65 314.87V320.19M42.85 320.19H44.45M47.42 317.53V322.85M46.62 322.85H48.22M51.2 319.17V324.49M50.4 324.49H52M54.98 320.8V326.13M54.18 326.13H55.77M58.75 318.55V323.87M57.95 323.87H59.55M62.53 316.92V322.24M61.73 322.24H63.33M66.3 318.14V323.06M65.5 323.06H67.1M73.85 322.03V328.38M73.05 328.38H74.65M81.4 329.2V335.74M80.6 335.74H82.2M88.95 321.83V325.92M88.15 325.92H89.75M96.5 318.35V324.9M95.7 324.9H97.3M104.05 314.67V319.17M103.25 319.17H104.85M111.6 307.09V313.23M110.8 313.23H112.4M119.15 310.37V317.53M118.35 317.53H119.95M126.7 315.69V323.06M125.9 323.06H127.5M217.3 312.82V319.37M216.5 319.37H218.1" stroke="#555555" stroke-width="0.8" fill="none"/>
<circle cx="32.7" cy="295.22" r="2.05" fill="#fff" stroke="#555" stroke-width="0.7"/>
<circle cx="36.1" cy="305.05" r="2.05" fill="#fff" stroke="#555" stroke-width="0.7"/>
<circle cx="39.88" cy="305.05" r="2.05" fill="#fff" stroke="#555" stroke-width="0.7"/>
<circle cx="43.65" cy="314.87" r="2.05" fill="#fff" stroke="#555" stroke-width="0.7"/>
<circle cx="47.42" cy="317.53" r="2.05" fill="#fff" stroke="#555" stroke-width="0.7"/>
<circle cx="51.2" cy="319.17" r="2.05" fill="#fff" stroke="#555" stroke-width="0.7"/>
<circle cx="54.98" cy="320.8" r="2.05" fill="#fff" stroke="#555" stroke-width="0.7"/>
<circle cx="58.75" cy="318.55" r="2.05" fill="#fff" stroke="#555" stroke-width="0.7"/>
<circle cx="62.53" cy="316.92" r="2.05" fill="#fff" stroke="#555" stroke-width="0.7"/>
<circle cx="66.3" cy="318.14" r="2.05" fill="#fff" stroke="#555" stroke-width="0.7"/>
<circle cx="73.85" cy="322.03" r="2.05" fill="#fff" stroke="#555" stroke-width="0.7"/>
<circle cx="81.4" cy="329.2" r="2.05" fill="#fff" stroke="#555" stroke-width="0.7"/>
<circle cx="88.95" cy="321.83" r="2.05" fill="#fff" stroke="#555" stroke-width="0.7"/>
<circle cx="96.5" cy="318.35" r="2.05" fill="#fff" stroke="#555" stroke-width="0.7"/>
<circle cx="104.05" cy="314.67" r="2.05" fill="#fff" stroke="#555" stroke-width="0.7"/>
<circle cx="111.6" cy="307.09" r="2.05" fill="#fff" stroke="#555" stroke-width="0.7"/>
<circle cx="119.15" cy="310.37" r="2.05" fill="#fff" stroke="#555" stroke-width="0.7"/>
<circle cx="126.7" cy="315.69" r="2.05" fill="#fff" stroke="#555" stroke-width="0.7"/>
<circle cx="217.3" cy="312.82" r="2.05" fill="#fff" stroke="#555" stroke-width="0.7"/>
</g>
<g>
<path d="M267.2 215V341.1 M267.2 338.1H451.8" stroke="#6a6a6a" stroke-width="1" fill="none"/>
<path d="M264.2 338.1H267.2" stroke="#555" stroke-width="0.9"/>
<text x="263.1" y="340.3" class="tl" text-anchor="end" textLength="12.12" lengthAdjust="spacingAndGlyphs">6000</text>
<path d="M264.2 309.41H267.2" stroke="#555" stroke-width="0.9"/>
<text x="263.1" y="311.61" class="tl" text-anchor="end" textLength="12.12" lengthAdjust="spacingAndGlyphs">8000</text>
<path d="M264.2 280.72H267.2" stroke="#555" stroke-width="0.9"/>
<text x="263.1" y="282.92" class="tl" text-anchor="end" textLength="15.16" lengthAdjust="spacingAndGlyphs">10000</text>
<path d="M264.2 252.04H267.2" stroke="#555" stroke-width="0.9"/>
<text x="263.1" y="254.24" class="tl" text-anchor="end" textLength="15.16" lengthAdjust="spacingAndGlyphs">12000</text>
<path d="M264.2 223.35H267.2" stroke="#555" stroke-width="0.9"/>
<text x="263.1" y="225.55" class="tl" text-anchor="end" textLength="15.16" lengthAdjust="spacingAndGlyphs">14000</text>
<path d="M270.8 338.1V341.1" stroke="#555" stroke-width="0.9"/>
<text x="270.8" y="347.1" class="tl" text-anchor="middle" textLength="3.03" lengthAdjust="spacingAndGlyphs">0</text>
<path d="M274.58 338.1V341.1" stroke="#555" stroke-width="0.9"/>
<path d="M278.36 338.1V341.1" stroke="#555" stroke-width="0.9"/>
<path d="M282.14 338.1V341.1" stroke="#555" stroke-width="0.9"/>
<path d="M285.92 338.1V341.1" stroke="#555" stroke-width="0.9"/>
<text x="285.92" y="347.1" class="tl" text-anchor="middle" textLength="3.03" lengthAdjust="spacingAndGlyphs">2</text>
<path d="M293.48 338.1V341.1" stroke="#555" stroke-width="0.9"/>
<path d="M301.04 338.1V341.1" stroke="#555" stroke-width="0.9"/>
<text x="301.04" y="347.1" class="tl" text-anchor="middle" textLength="3.03" lengthAdjust="spacingAndGlyphs">4</text>
<path d="M308.6 338.1V341.1" stroke="#555" stroke-width="0.9"/>
<path d="M316.16 338.1V341.1" stroke="#555" stroke-width="0.9"/>
<text x="316.16" y="347.1" class="tl" text-anchor="middle" textLength="3.03" lengthAdjust="spacingAndGlyphs">6</text>
<path d="M323.72 338.1V341.1" stroke="#555" stroke-width="0.9"/>
<path d="M331.28 338.1V341.1" stroke="#555" stroke-width="0.9"/>
<text x="331.28" y="347.1" class="tl" text-anchor="middle" textLength="3.03" lengthAdjust="spacingAndGlyphs">8</text>
<path d="M338.84 338.1V341.1" stroke="#555" stroke-width="0.9"/>
<path d="M346.4 338.1V341.1" stroke="#555" stroke-width="0.9"/>
<text x="346.4" y="347.1" class="tl" text-anchor="middle" textLength="6.06" lengthAdjust="spacingAndGlyphs">10</text>
<path d="M353.96 338.1V341.1" stroke="#555" stroke-width="0.9"/>
<path d="M361.52 338.1V341.1" stroke="#555" stroke-width="0.9"/>
<text x="361.52" y="347.1" class="tl" text-anchor="middle" textLength="6.06" lengthAdjust="spacingAndGlyphs">12</text>
<path d="M452.24 338.1V341.1" stroke="#555" stroke-width="0.9"/>
<text x="452.24" y="347.1" class="tl" text-anchor="middle" textLength="6.06" lengthAdjust="spacingAndGlyphs">24</text>
<text x="359.5" y="358.1" class="ax" style="font-size:8.18px" text-anchor="middle" textLength="26.9" lengthAdjust="spacingAndGlyphs">Time (h)</text>
<text transform="translate(233.9 278) rotate(-90)" class="ax" style="font-size:8.48px" text-anchor="middle" textLength="79.15" lengthAdjust="spacingAndGlyphs">Rate pressure product</text>
<text transform="translate(243.5 276.1) rotate(-90)" class="ax" style="font-size:7.9px" text-anchor="middle" textLength="49.88" lengthAdjust="spacingAndGlyphs">(bpm × mmHg)</text>
<polyline points="267.3,305.11 270.8,302.24 274.58,251.71 278.36,233.69 282.14,226.69 285.92,231.7 289.7,236.7 293.48,240.7 297.26,250 301.04,258.3 308.6,268.5 316.16,278.6 323.72,283.75 331.28,287.9 338.84,295 346.4,296.7 353.96,297 361.52,299.7 452.24,306.7" fill="none" stroke="#a964ad" stroke-width="0.8"/>
<path d="M267.3 305.11V299.37M266.5 299.37H268.1M270.8 302.24V296.5M270 296.5H271.6M274.58 251.71V241.67M273.78 241.67H275.38M278.36 233.69V222.79M277.56 222.79H279.16M282.14 226.69V215.07M281.34 215.07H282.94M285.92 231.7V221.23M285.12 221.23H286.72M289.7 236.7V226.66M288.9 226.66H290.5M293.48 240.7V233.96M292.68 233.96H294.28M297.26 250V243.69M296.46 243.69H298.06M301.04 258.3V248.98M300.24 248.98H301.84M308.6 268.5V258.03M307.8 258.03H309.4M316.16 278.6V269.42M315.36 269.42H316.96M323.72 283.75V275.43M322.92 275.43H324.52M331.28 287.9V280.29M330.48 280.29H332.08M338.84 295V286.96M338.04 286.96H339.64M346.4 296.7V290.82M345.6 290.82H347.2M353.96 297V290.98M353.16 290.98H354.76M361.52 299.7V293.96M360.72 293.96H362.32M452.24 306.7V302.4M451.44 302.4H453.04" stroke="#a55aab" stroke-width="0.8" fill="none"/>
<circle cx="267.3" cy="305.11" r="2.25" fill="#6e0a78"/>
<circle cx="270.8" cy="302.24" r="2.25" fill="#6e0a78"/>
<circle cx="274.58" cy="251.71" r="2.25" fill="#6e0a78"/>
<circle cx="278.36" cy="233.69" r="2.25" fill="#6e0a78"/>
<circle cx="282.14" cy="226.69" r="2.25" fill="#6e0a78"/>
<circle cx="285.92" cy="231.7" r="2.25" fill="#6e0a78"/>
<circle cx="289.7" cy="236.7" r="2.25" fill="#6e0a78"/>
<circle cx="293.48" cy="240.7" r="2.25" fill="#6e0a78"/>
<circle cx="297.26" cy="250" r="2.25" fill="#6e0a78"/>
<circle cx="301.04" cy="258.3" r="2.25" fill="#6e0a78"/>
<circle cx="308.6" cy="268.5" r="2.25" fill="#6e0a78"/>
<circle cx="316.16" cy="278.6" r="2.25" fill="#6e0a78"/>
<circle cx="323.72" cy="283.75" r="2.25" fill="#6e0a78"/>
<circle cx="331.28" cy="287.9" r="2.25" fill="#6e0a78"/>
<circle cx="338.84" cy="295" r="2.25" fill="#6e0a78"/>
<circle cx="346.4" cy="296.7" r="2.25" fill="#6e0a78"/>
<circle cx="353.96" cy="297" r="2.25" fill="#6e0a78"/>
<circle cx="361.52" cy="299.7" r="2.25" fill="#6e0a78"/>
<circle cx="452.24" cy="306.7" r="2.25" fill="#6e0a78"/>
<polyline points="267.3,306.54 270.8,301.52 274.58,265 278.36,262.31 282.14,265 285.92,266.19 289.7,265 293.48,269.97 297.26,279 301.04,281.33 308.6,286.32 316.16,291.7 323.72,296.7 331.28,300 338.84,299.2 346.4,300.81 353.96,303.7 361.52,304.19 452.24,314" fill="none" stroke="#8a8af7" stroke-width="0.8"/>
<path d="M267.3 306.54V311.56M266.5 311.56H268.1M270.8 301.52V306.54M270 306.54H271.6M274.58 265V273.61M273.78 273.61H275.38M278.36 262.31V272.06M277.56 272.06H279.16M282.14 265V275.33M281.34 275.33H282.94M285.92 266.19V276.23M285.12 276.23H286.72M289.7 265V275.04M288.9 275.04H290.5M293.48 269.97V282.01M292.68 282.01H294.28M297.26 279V287.75M296.46 287.75H298.06M301.04 281.33V291.37M300.24 291.37H301.84M308.6 286.32V296.65M307.8 296.65H309.4M316.16 291.7V300.88M315.36 300.88H316.96M323.72 296.7V305.74M322.92 305.74H324.52M331.28 300V306.74M330.48 306.74H332.08M338.84 299.2V308.24M338.04 308.24H339.64M346.4 300.81V307.98M345.6 307.98H347.2M353.96 303.7V310.01M353.16 310.01H354.76M361.52 304.19V309.21M360.72 309.21H362.32M452.24 314V317.59M451.44 317.59H453.04" stroke="#8080f5" stroke-width="0.8" fill="none"/>
<path d="M267.3 304.08L269.55 308.18L265.05 308.18Z" fill="#3333f5"/>
<path d="M270.8 299.06L273.05 303.16L268.55 303.16Z" fill="#3333f5"/>
<path d="M274.58 262.54L276.83 266.64L272.33 266.64Z" fill="#3333f5"/>
<path d="M278.36 259.85L280.61 263.95L276.11 263.95Z" fill="#3333f5"/>
<path d="M282.14 262.54L284.39 266.64L279.89 266.64Z" fill="#3333f5"/>
<path d="M285.92 263.73L288.17 267.83L283.67 267.83Z" fill="#3333f5"/>
<path d="M289.7 262.54L291.95 266.64L287.45 266.64Z" fill="#3333f5"/>
<path d="M293.48 267.51L295.73 271.61L291.23 271.61Z" fill="#3333f5"/>
<path d="M297.26 276.54L299.51 280.64L295.01 280.64Z" fill="#3333f5"/>
<path d="M301.04 278.87L303.29 282.97L298.79 282.97Z" fill="#3333f5"/>
<path d="M308.6 283.86L310.85 287.96L306.35 287.96Z" fill="#3333f5"/>
<path d="M316.16 289.24L318.41 293.34L313.91 293.34Z" fill="#3333f5"/>
<path d="M323.72 294.24L325.97 298.34L321.47 298.34Z" fill="#3333f5"/>
<path d="M331.28 297.54L333.53 301.64L329.03 301.64Z" fill="#3333f5"/>
<path d="M338.84 296.74L341.09 300.84L336.59 300.84Z" fill="#3333f5"/>
<path d="M346.4 298.35L348.65 302.45L344.15 302.45Z" fill="#3333f5"/>
<path d="M353.96 301.24L356.21 305.34L351.71 305.34Z" fill="#3333f5"/>
<path d="M361.52 301.73L363.77 305.83L359.27 305.83Z" fill="#3333f5"/>
<path d="M452.24 311.54L454.49 315.64L449.99 315.64Z" fill="#3333f5"/>
<polyline points="267.3,303.67 270.8,299.4 274.58,282.8 278.36,243.7 282.14,240 285.92,252.8 289.7,257 293.48,269.49 297.26,278.2 301.04,284.4 308.6,288.3 316.16,293.3 323.72,299.7 331.28,301.31 338.84,304.69 346.4,302.5 353.96,301.69 361.52,304.69 452.24,301.9" fill="none" stroke="#f79090" stroke-width="0.8"/>
<path d="M267.3 303.67V298.65M266.5 298.65H268.1M270.8 299.4V294.38M270 294.38H271.6M274.58 282.8V277.07M273.78 277.07H275.38M278.36 243.7V236.96M277.56 236.96H279.16M282.14 240V231.25M281.34 231.25H282.94M285.92 252.8V242.76M285.12 242.76H286.72M289.7 257V251.26M288.9 251.26H290.5M293.48 269.49V264.47M292.68 264.47H294.28M297.26 278.2V273.18M296.46 273.18H298.06M301.04 284.4V278.95M300.24 278.95H301.84M308.6 288.3V283.28M307.8 283.28H309.4M316.16 293.3V289.72M315.36 289.72H316.96M323.72 299.7V295.83M322.92 295.83H324.52M331.28 301.31V297.43M330.48 297.43H332.08M338.84 304.69V300.82M338.04 300.82H339.64M346.4 302.5V298.63M345.6 298.63H347.2M353.96 301.69V297.82M353.16 297.82H354.76M361.52 304.69V300.82M360.72 300.82H362.32M452.24 301.9V297.45M451.44 297.45H453.04" stroke="#f47a7a" stroke-width="0.8" fill="none"/>
<rect x="264.95" y="301.32" width="4.7" height="4.7" fill="#f43b3b"/>
<rect x="268.45" y="297.05" width="4.7" height="4.7" fill="#f43b3b"/>
<rect x="272.23" y="280.45" width="4.7" height="4.7" fill="#f43b3b"/>
<rect x="276.01" y="241.35" width="4.7" height="4.7" fill="#f43b3b"/>
<rect x="279.79" y="237.65" width="4.7" height="4.7" fill="#f43b3b"/>
<rect x="283.57" y="250.45" width="4.7" height="4.7" fill="#f43b3b"/>
<rect x="287.35" y="254.65" width="4.7" height="4.7" fill="#f43b3b"/>
<rect x="291.13" y="267.14" width="4.7" height="4.7" fill="#f43b3b"/>
<rect x="294.91" y="275.85" width="4.7" height="4.7" fill="#f43b3b"/>
<rect x="298.69" y="282.05" width="4.7" height="4.7" fill="#f43b3b"/>
<rect x="306.25" y="285.95" width="4.7" height="4.7" fill="#f43b3b"/>
<rect x="313.81" y="290.95" width="4.7" height="4.7" fill="#f43b3b"/>
<rect x="321.37" y="297.35" width="4.7" height="4.7" fill="#f43b3b"/>
<rect x="328.93" y="298.96" width="4.7" height="4.7" fill="#f43b3b"/>
<rect x="336.49" y="302.34" width="4.7" height="4.7" fill="#f43b3b"/>
<rect x="344.05" y="300.15" width="4.7" height="4.7" fill="#f43b3b"/>
<rect x="351.61" y="299.34" width="4.7" height="4.7" fill="#f43b3b"/>
<rect x="359.17" y="302.34" width="4.7" height="4.7" fill="#f43b3b"/>
<rect x="449.89" y="299.55" width="4.7" height="4.7" fill="#f43b3b"/>
<polyline points="267.3,304.99 270.8,303.9 274.58,300 278.36,309.18 282.14,317.1 285.92,321.7 289.7,325.41 293.48,324 297.26,318.51 301.04,315.01 308.6,309.7 316.16,315.8 323.72,320 331.28,324.7 338.84,324.2 346.4,317.5 353.96,312.5 361.52,313.7 452.24,311.25" fill="none" stroke="#4a4a4a" stroke-width="0.7"/>
<path d="M267.3 304.99V308.58M266.5 308.58H268.1M270.8 303.9V307.49M270 307.49H271.6M274.58 300V303.59M273.78 303.59H275.38M278.36 309.18V312.77M277.56 312.77H279.16M282.14 317.1V320.69M281.34 320.69H282.94M285.92 321.7V325.29M285.12 325.29H286.72M289.7 325.41V328.99M288.9 328.99H290.5M293.48 324V327.59M292.68 327.59H294.28M297.26 318.51V322.09M296.46 322.09H298.06M301.04 315.01V318.59M300.24 318.59H301.84M308.6 309.7V313.28M307.8 313.28H309.4M316.16 315.8V319.38M315.36 319.38H316.96M323.72 320V323.58M322.92 323.58H324.52M331.28 324.7V328.29M330.48 328.29H332.08M338.84 324.2V327.79M338.04 327.79H339.64M346.4 317.5V321.09M345.6 321.09H347.2M353.96 312.5V316.08M353.16 316.08H354.76M361.52 313.7V317.29M360.72 317.29H362.32M452.24 311.25V314.83M451.44 314.83H453.04" stroke="#555555" stroke-width="0.8" fill="none"/>
<circle cx="267.3" cy="304.99" r="2.05" fill="#fff" stroke="#555" stroke-width="0.7"/>
<circle cx="270.8" cy="303.9" r="2.05" fill="#fff" stroke="#555" stroke-width="0.7"/>
<circle cx="274.58" cy="300" r="2.05" fill="#fff" stroke="#555" stroke-width="0.7"/>
<circle cx="278.36" cy="309.18" r="2.05" fill="#fff" stroke="#555" stroke-width="0.7"/>
<circle cx="282.14" cy="317.1" r="2.05" fill="#fff" stroke="#555" stroke-width="0.7"/>
<circle cx="285.92" cy="321.7" r="2.05" fill="#fff" stroke="#555" stroke-width="0.7"/>
<circle cx="289.7" cy="325.41" r="2.05" fill="#fff" stroke="#555" stroke-width="0.7"/>
<circle cx="293.48" cy="324" r="2.05" fill="#fff" stroke="#555" stroke-width="0.7"/>
<circle cx="297.26" cy="318.51" r="2.05" fill="#fff" stroke="#555" stroke-width="0.7"/>
<circle cx="301.04" cy="315.01" r="2.05" fill="#fff" stroke="#555" stroke-width="0.7"/>
<circle cx="308.6" cy="309.7" r="2.05" fill="#fff" stroke="#555" stroke-width="0.7"/>
<circle cx="316.16" cy="315.8" r="2.05" fill="#fff" stroke="#555" stroke-width="0.7"/>
<circle cx="323.72" cy="320" r="2.05" fill="#fff" stroke="#555" stroke-width="0.7"/>
<circle cx="331.28" cy="324.7" r="2.05" fill="#fff" stroke="#555" stroke-width="0.7"/>
<circle cx="338.84" cy="324.2" r="2.05" fill="#fff" stroke="#555" stroke-width="0.7"/>
<circle cx="346.4" cy="317.5" r="2.05" fill="#fff" stroke="#555" stroke-width="0.7"/>
<circle cx="353.96" cy="312.5" r="2.05" fill="#fff" stroke="#555" stroke-width="0.7"/>
<circle cx="361.52" cy="313.7" r="2.05" fill="#fff" stroke="#555" stroke-width="0.7"/>
<circle cx="452.24" cy="311.25" r="2.05" fill="#fff" stroke="#555" stroke-width="0.7"/>
</g>
<g>
<path d="M494.6 215.4V341.3 M494.6 338.3H678.9" stroke="#6a6a6a" stroke-width="1" fill="none"/>
<path d="M491.6 329.1H494.6" stroke="#555" stroke-width="0.9"/>
<text x="490.5" y="331.3" class="tl" text-anchor="end" textLength="10.61" lengthAdjust="spacingAndGlyphs">36.4</text>
<path d="M491.6 310.15H494.6" stroke="#555" stroke-width="0.9"/>
<text x="490.5" y="312.35" class="tl" text-anchor="end" textLength="10.61" lengthAdjust="spacingAndGlyphs">36.6</text>
<path d="M491.6 291.2H494.6" stroke="#555" stroke-width="0.9"/>
<text x="490.5" y="293.4" class="tl" text-anchor="end" textLength="10.61" lengthAdjust="spacingAndGlyphs">36.8</text>
<path d="M491.6 272.25H494.6" stroke="#555" stroke-width="0.9"/>
<text x="490.5" y="274.45" class="tl" text-anchor="end" textLength="10.61" lengthAdjust="spacingAndGlyphs">37.0</text>
<path d="M491.6 253.3H494.6" stroke="#555" stroke-width="0.9"/>
<text x="490.5" y="255.5" class="tl" text-anchor="end" textLength="10.61" lengthAdjust="spacingAndGlyphs">37.2</text>
<path d="M491.6 234.35H494.6" stroke="#555" stroke-width="0.9"/>
<text x="490.5" y="236.55" class="tl" text-anchor="end" textLength="10.61" lengthAdjust="spacingAndGlyphs">37.4</text>
<path d="M491.6 215.4H494.6" stroke="#555" stroke-width="0.9"/>
<text x="490.5" y="217.6" class="tl" text-anchor="end" textLength="10.61" lengthAdjust="spacingAndGlyphs">37.6</text>
<path d="M497.8 338.3V341.3" stroke="#555" stroke-width="0.9"/>
<text x="497.8" y="347.3" class="tl" text-anchor="middle" textLength="3.03" lengthAdjust="spacingAndGlyphs">0</text>
<path d="M501.57 338.3V341.3" stroke="#555" stroke-width="0.9"/>
<path d="M505.35 338.3V341.3" stroke="#555" stroke-width="0.9"/>
<path d="M509.12 338.3V341.3" stroke="#555" stroke-width="0.9"/>
<path d="M512.89 338.3V341.3" stroke="#555" stroke-width="0.9"/>
<text x="512.89" y="347.3" class="tl" text-anchor="middle" textLength="3.03" lengthAdjust="spacingAndGlyphs">2</text>
<path d="M520.44 338.3V341.3" stroke="#555" stroke-width="0.9"/>
<path d="M527.98 338.3V341.3" stroke="#555" stroke-width="0.9"/>
<text x="527.98" y="347.3" class="tl" text-anchor="middle" textLength="3.03" lengthAdjust="spacingAndGlyphs">4</text>
<path d="M535.52 338.3V341.3" stroke="#555" stroke-width="0.9"/>
<path d="M543.07 338.3V341.3" stroke="#555" stroke-width="0.9"/>
<text x="543.07" y="347.3" class="tl" text-anchor="middle" textLength="3.03" lengthAdjust="spacingAndGlyphs">6</text>
<path d="M550.62 338.3V341.3" stroke="#555" stroke-width="0.9"/>
<path d="M558.16 338.3V341.3" stroke="#555" stroke-width="0.9"/>
<text x="558.16" y="347.3" class="tl" text-anchor="middle" textLength="3.03" lengthAdjust="spacingAndGlyphs">8</text>
<path d="M565.71 338.3V341.3" stroke="#555" stroke-width="0.9"/>
<path d="M573.25 338.3V341.3" stroke="#555" stroke-width="0.9"/>
<text x="573.25" y="347.3" class="tl" text-anchor="middle" textLength="6.06" lengthAdjust="spacingAndGlyphs">10</text>
<path d="M580.8 338.3V341.3" stroke="#555" stroke-width="0.9"/>
<path d="M588.34 338.3V341.3" stroke="#555" stroke-width="0.9"/>
<text x="588.34" y="347.3" class="tl" text-anchor="middle" textLength="6.06" lengthAdjust="spacingAndGlyphs">12</text>
<path d="M678.88 338.3V341.3" stroke="#555" stroke-width="0.9"/>
<text x="678.88" y="347.3" class="tl" text-anchor="middle" textLength="6.06" lengthAdjust="spacingAndGlyphs">24</text>
<text x="586.75" y="358.3" class="ax" style="font-size:8.18px" text-anchor="middle" textLength="26.9" lengthAdjust="spacingAndGlyphs">Time (h)</text>
<text transform="translate(475 276.2) rotate(-90)" class="ax" style="font-size:7.79px" text-anchor="middle" textLength="73.61" lengthAdjust="spacingAndGlyphs">Body temperature (°C)</text>
<polyline points="494.7,300.67 497.8,304.47 501.57,305.41 505.35,282.67 509.12,264.2 512.89,247.62 516.66,249.51 520.44,246.67 524.21,241.93 527.98,252.35 535.52,256.14 543.07,259.93 550.62,270.35 558.16,275.09 565.71,275.09 573.25,270.35 580.8,275.09 588.34,285.51 678.88,314.89" fill="none" stroke="#a964ad" stroke-width="0.8"/>
<path d="M494.7 300.67V293.09M493.9 293.09H495.5M497.8 304.47V296.89M497 296.89H498.6M501.57 305.41V297.83M500.77 297.83H502.37M505.35 282.67V274.14M504.55 274.14H506.15M509.12 264.2V255.67M508.32 255.67H509.92M512.89 247.62V240.04M512.09 240.04H513.69M516.66 249.51V240.98M515.86 240.98H517.46M520.44 246.67V238.14M519.64 238.14H521.24M524.21 241.93V234.35M523.41 234.35H525.01M527.98 252.35V242.88M527.18 242.88H528.78M535.52 256.14V247.61M534.73 247.61H536.32M543.07 259.93V252.35M542.27 252.35H543.87M550.62 270.35V261.83M549.82 261.83H551.41M558.16 275.09V265.62M557.36 265.62H558.96M565.71 275.09V266.56M564.91 266.56H566.5M573.25 270.35V262.77M572.45 262.77H574.05M580.8 275.09V266.56M580 266.56H581.6M588.34 285.51V276.99M587.54 276.99H589.14M678.88 314.89V310.15M678.08 310.15H679.68" stroke="#a55aab" stroke-width="0.8" fill="none"/>
<circle cx="494.7" cy="300.67" r="2.25" fill="#6e0a78"/>
<circle cx="497.8" cy="304.47" r="2.25" fill="#6e0a78"/>
<circle cx="501.57" cy="305.41" r="2.25" fill="#6e0a78"/>
<circle cx="505.35" cy="282.67" r="2.25" fill="#6e0a78"/>
<circle cx="509.12" cy="264.2" r="2.25" fill="#6e0a78"/>
<circle cx="512.89" cy="247.62" r="2.25" fill="#6e0a78"/>
<circle cx="516.66" cy="249.51" r="2.25" fill="#6e0a78"/>
<circle cx="520.44" cy="246.67" r="2.25" fill="#6e0a78"/>
<circle cx="524.21" cy="241.93" r="2.25" fill="#6e0a78"/>
<circle cx="527.98" cy="252.35" r="2.25" fill="#6e0a78"/>
<circle cx="535.52" cy="256.14" r="2.25" fill="#6e0a78"/>
<circle cx="543.07" cy="259.93" r="2.25" fill="#6e0a78"/>
<circle cx="550.62" cy="270.35" r="2.25" fill="#6e0a78"/>
<circle cx="558.16" cy="275.09" r="2.25" fill="#6e0a78"/>
<circle cx="565.71" cy="275.09" r="2.25" fill="#6e0a78"/>
<circle cx="573.25" cy="270.35" r="2.25" fill="#6e0a78"/>
<circle cx="580.8" cy="275.09" r="2.25" fill="#6e0a78"/>
<circle cx="588.34" cy="285.51" r="2.25" fill="#6e0a78"/>
<circle cx="678.88" cy="314.89" r="2.25" fill="#6e0a78"/>
<polyline points="494.7,312.52 497.8,308.26 501.57,298.31 505.35,284.57 509.12,272.25 512.89,256.14 516.66,249.51 520.44,252.35 524.21,246.67 527.98,255.19 535.52,256.14 543.07,258.04 550.62,270.35 558.16,267.51 565.71,274.15 573.25,274.15 580.8,283.15 588.34,289.3 678.88,333.36" fill="none" stroke="#8a8af7" stroke-width="0.8"/>
<path d="M494.7 312.52V320.1M493.9 320.1H495.5M497.8 308.26V313.94M497 313.94H498.6M501.57 298.31V303.99M500.77 303.99H502.37M505.35 284.57V291.2M504.55 291.2H506.15M509.12 272.25V280.78M508.32 280.78H509.92M512.89 256.14V263.72M512.09 263.72H513.69M516.66 249.51V257.09M515.86 257.09H517.46M520.44 252.35V259.93M519.64 259.93H521.24M524.21 246.67V254.25M523.41 254.25H525.01M527.98 255.19V262.77M527.18 262.77H528.78M535.52 256.14V263.72M534.73 263.72H536.32M543.07 258.04V264.67M542.27 264.67H543.87M550.62 270.35V277.93M549.82 277.93H551.41M558.16 267.51V275.09M557.36 275.09H558.96M565.71 274.15V281.73M564.91 281.73H566.5M573.25 274.15V280.78M572.45 280.78H574.05M580.8 283.15V289.78M580 289.78H581.6M588.34 289.3V295.94M587.54 295.94H589.14M678.88 333.36V338.1M678.08 338.1H679.68" stroke="#8080f5" stroke-width="0.8" fill="none"/>
<path d="M494.7 310.06L496.95 314.16L492.45 314.16Z" fill="#3333f5"/>
<path d="M497.8 305.8L500.05 309.9L495.55 309.9Z" fill="#3333f5"/>
<path d="M501.57 295.85L503.82 299.95L499.32 299.95Z" fill="#3333f5"/>
<path d="M505.35 282.11L507.6 286.21L503.1 286.21Z" fill="#3333f5"/>
<path d="M509.12 269.79L511.37 273.89L506.87 273.89Z" fill="#3333f5"/>
<path d="M512.89 253.68L515.14 257.78L510.64 257.78Z" fill="#3333f5"/>
<path d="M516.66 247.05L518.91 251.15L514.41 251.15Z" fill="#3333f5"/>
<path d="M520.44 249.89L522.69 253.99L518.19 253.99Z" fill="#3333f5"/>
<path d="M524.21 244.21L526.46 248.31L521.96 248.31Z" fill="#3333f5"/>
<path d="M527.98 252.73L530.23 256.83L525.73 256.83Z" fill="#3333f5"/>
<path d="M535.52 253.68L537.77 257.78L533.27 257.78Z" fill="#3333f5"/>
<path d="M543.07 255.58L545.32 259.68L540.82 259.68Z" fill="#3333f5"/>
<path d="M550.62 267.89L552.87 271.99L548.37 271.99Z" fill="#3333f5"/>
<path d="M558.16 265.05L560.41 269.15L555.91 269.15Z" fill="#3333f5"/>
<path d="M565.71 271.69L567.96 275.79L563.46 275.79Z" fill="#3333f5"/>
<path d="M573.25 271.69L575.5 275.79L571 275.79Z" fill="#3333f5"/>
<path d="M580.8 280.69L583.05 284.79L578.55 284.79Z" fill="#3333f5"/>
<path d="M588.34 286.84L590.59 290.94L586.09 290.94Z" fill="#3333f5"/>
<path d="M678.88 330.9L681.13 335L676.63 335Z" fill="#3333f5"/>
<polyline points="494.7,300.67 497.8,300.67 501.57,294.04 505.35,280.3 509.12,273.67 512.89,265.62 516.66,259.93 520.44,261.35 524.21,269.41 527.98,267.99 535.52,275.09 543.07,279.83 550.62,282.67 558.16,280.78 565.71,276.04 573.25,276.99 580.8,287.41 588.34,295.94 678.88,309.68" fill="none" stroke="#f79090" stroke-width="0.8"/>
<path d="M494.7 300.67V304.46M493.9 304.46H495.5M497.8 300.67V304.46M497 304.46H498.6M501.57 294.04V299.73M500.77 299.73H502.37M505.35 280.3V287.88M504.55 287.88H506.15M509.12 273.67V282.2M508.32 282.2H509.92M512.89 265.62V274.15M512.09 274.15H513.69M516.66 259.93V268.46M515.86 268.46H517.46M520.44 261.35V269.88M519.64 269.88H521.24M524.21 269.41V276.99M523.41 276.99H525.01M527.98 267.99V275.57M527.18 275.57H528.78M535.52 275.09V283.62M534.73 283.62H536.32M543.07 279.83V287.41M542.27 287.41H543.87M550.62 282.67V291.2M549.82 291.2H551.41M558.16 280.78V287.41M557.36 287.41H558.96M565.71 276.04V284.57M564.91 284.57H566.5M573.25 276.99V283.62M572.45 283.62H574.05M580.8 287.41V294.04M580 294.04H581.6M588.34 295.94V303.52M587.54 303.52H589.14M678.88 309.68V313.47M678.08 313.47H679.68" stroke="#f47a7a" stroke-width="0.8" fill="none"/>
<rect x="492.35" y="298.32" width="4.7" height="4.7" fill="#f43b3b"/>
<rect x="495.45" y="298.32" width="4.7" height="4.7" fill="#f43b3b"/>
<rect x="499.22" y="291.69" width="4.7" height="4.7" fill="#f43b3b"/>
<rect x="503" y="277.95" width="4.7" height="4.7" fill="#f43b3b"/>
<rect x="506.77" y="271.32" width="4.7" height="4.7" fill="#f43b3b"/>
<rect x="510.54" y="263.27" width="4.7" height="4.7" fill="#f43b3b"/>
<rect x="514.31" y="257.58" width="4.7" height="4.7" fill="#f43b3b"/>
<rect x="518.09" y="259" width="4.7" height="4.7" fill="#f43b3b"/>
<rect x="521.86" y="267.06" width="4.7" height="4.7" fill="#f43b3b"/>
<rect x="525.63" y="265.64" width="4.7" height="4.7" fill="#f43b3b"/>
<rect x="533.17" y="272.74" width="4.7" height="4.7" fill="#f43b3b"/>
<rect x="540.72" y="277.48" width="4.7" height="4.7" fill="#f43b3b"/>
<rect x="548.26" y="280.32" width="4.7" height="4.7" fill="#f43b3b"/>
<rect x="555.81" y="278.43" width="4.7" height="4.7" fill="#f43b3b"/>
<rect x="563.36" y="273.69" width="4.7" height="4.7" fill="#f43b3b"/>
<rect x="570.9" y="274.64" width="4.7" height="4.7" fill="#f43b3b"/>
<rect x="578.45" y="285.06" width="4.7" height="4.7" fill="#f43b3b"/>
<rect x="585.99" y="293.59" width="4.7" height="4.7" fill="#f43b3b"/>
<rect x="676.53" y="307.33" width="4.7" height="4.7" fill="#f43b3b"/>
<polyline points="494.7,310.62 497.8,305.41 501.57,303.52 505.35,297.83 509.12,303.52 512.89,301.62 516.66,298.78 520.44,297.83 524.21,300.67 527.98,300.67 535.52,299.73 543.07,294.99 550.62,301.62 558.16,297.83 565.71,304.47 573.25,304.47 580.8,298.78 588.34,308.26 678.88,323.41" fill="none" stroke="#4a4a4a" stroke-width="0.7"/>
<path d="M494.7 310.62V316.31M493.9 316.31H495.5M497.8 305.41V311.1M497 311.1H498.6M501.57 303.52V309.2M500.77 309.2H502.37M505.35 297.83V303.52M504.55 303.52H506.15M509.12 303.52V312.05M508.32 312.05H509.92M512.89 301.62V307.31M512.09 307.31H513.69M516.66 298.78V304.47M515.86 304.47H517.46M520.44 297.83V303.52M519.64 303.52H521.24M524.21 300.67V306.36M523.41 306.36H525.01M527.98 300.67V306.36M527.18 306.36H528.78M535.52 299.73V305.89M534.73 305.89H536.32M543.07 294.99V299.73M542.27 299.73H543.87M550.62 301.62V307.31M549.82 307.31H551.41M558.16 297.83V303.52M557.36 303.52H558.96M565.71 304.47V310.15M564.91 310.15H566.5M573.25 304.47V310.15M572.45 310.15H574.05M580.8 298.78V304.47M580 304.47H581.6M588.34 308.26V312.52M587.54 312.52H589.14M678.88 323.41V328.15M678.08 328.15H679.68" stroke="#555555" stroke-width="0.8" fill="none"/>
<circle cx="494.7" cy="310.62" r="2.05" fill="#fff" stroke="#555" stroke-width="0.7"/>
<circle cx="497.8" cy="305.41" r="2.05" fill="#fff" stroke="#555" stroke-width="0.7"/>
<circle cx="501.57" cy="303.52" r="2.05" fill="#fff" stroke="#555" stroke-width="0.7"/>
<circle cx="505.35" cy="297.83" r="2.05" fill="#fff" stroke="#555" stroke-width="0.7"/>
<circle cx="509.12" cy="303.52" r="2.05" fill="#fff" stroke="#555" stroke-width="0.7"/>
<circle cx="512.89" cy="301.62" r="2.05" fill="#fff" stroke="#555" stroke-width="0.7"/>
<circle cx="516.66" cy="298.78" r="2.05" fill="#fff" stroke="#555" stroke-width="0.7"/>
<circle cx="520.44" cy="297.83" r="2.05" fill="#fff" stroke="#555" stroke-width="0.7"/>
<circle cx="524.21" cy="300.67" r="2.05" fill="#fff" stroke="#555" stroke-width="0.7"/>
<circle cx="527.98" cy="300.67" r="2.05" fill="#fff" stroke="#555" stroke-width="0.7"/>
<circle cx="535.52" cy="299.73" r="2.05" fill="#fff" stroke="#555" stroke-width="0.7"/>
<circle cx="543.07" cy="294.99" r="2.05" fill="#fff" stroke="#555" stroke-width="0.7"/>
<circle cx="550.62" cy="301.62" r="2.05" fill="#fff" stroke="#555" stroke-width="0.7"/>
<circle cx="558.16" cy="297.83" r="2.05" fill="#fff" stroke="#555" stroke-width="0.7"/>
<circle cx="565.71" cy="304.47" r="2.05" fill="#fff" stroke="#555" stroke-width="0.7"/>
<circle cx="573.25" cy="304.47" r="2.05" fill="#fff" stroke="#555" stroke-width="0.7"/>
<circle cx="580.8" cy="298.78" r="2.05" fill="#fff" stroke="#555" stroke-width="0.7"/>
<circle cx="588.34" cy="308.26" r="2.05" fill="#fff" stroke="#555" stroke-width="0.7"/>
<circle cx="678.88" cy="323.41" r="2.05" fill="#fff" stroke="#555" stroke-width="0.7"/>
</g>
<path d="M592 4.6H606.5" stroke="#f79090" stroke-width="1"/>
<rect x="596" y="1.2" width="6.8" height="6.8" fill="#f43b3b"/>
<text x="614.2" y="8.2" class="lg">MDMA</text>
<path d="M592 22.3H606.5" stroke="#8a8af7" stroke-width="1"/>
<path d="M599.4 18.7L602.9 25.7L595.9 25.7Z" fill="#3333f5"/>
<text x="614.2" y="25.9" class="lg">LSD</text>
<path d="M592 39.8H606.5" stroke="#a964ad" stroke-width="1"/>
<circle cx="599.4" cy="39.8" r="3.5" fill="#6e0a78"/>
<text x="614.2" y="43.4" class="lg">LSD + MDMA</text>
<path d="M592 57.8H606.5" stroke="#333" stroke-width="1"/>
<circle cx="599.4" cy="57.8" r="3.0" fill="#fff" stroke="#333" stroke-width="0.9"/>
<text x="614.2" y="61.4" class="lg">Placebo</text>
</svg>
</body></html>
